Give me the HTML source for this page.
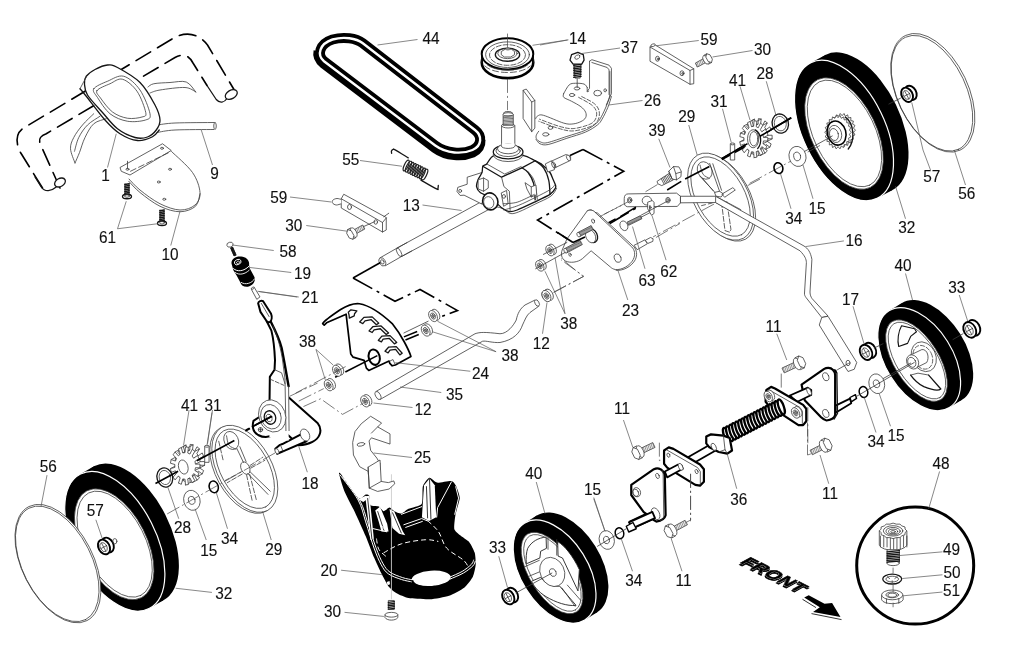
<!DOCTYPE html>
<html><head><meta charset="utf-8"><title>Drive assembly diagram</title>
<style>
html,body{margin:0;padding:0;background:#fff;}
svg{display:block;}
path,ellipse,line,circle,polygon{vector-effect:non-scaling-stroke}
text{font-family:"Liberation Sans",sans-serif;font-size:16.2px;fill:#111;text-anchor:middle;stroke:#111;stroke-width:0.12px;}
svg{filter:grayscale(1);}
.t{fill:none;stroke:#3a3a3a;stroke-width:0.8;stroke-linejoin:round;stroke-linecap:round;}
.tw{fill:#fff;stroke:#3a3a3a;stroke-width:0.8;stroke-linejoin:round;}
.l{fill:none;stroke:#555;stroke-width:0.7;}
.m{fill:none;stroke:#151515;stroke-width:1.3;stroke-linejoin:round;stroke-linecap:round;}
.mw{fill:#fff;stroke:#151515;stroke-width:1.3;stroke-linejoin:round;}
.k{fill:none;stroke:#000;stroke-width:2;stroke-linejoin:round;stroke-linecap:round;}
.kw{fill:#fff;stroke:#000;stroke-width:2;stroke-linejoin:round;}
.b{fill:#000;stroke:none;}
.bs{fill:#000;stroke:#000;stroke-width:1;}
.w{fill:#fff;stroke:none;}
.ws{fill:none;stroke:#fff;stroke-width:1;}
.g{fill:#888;stroke:none;}
.d{stroke-dasharray:17 8;stroke-width:1.6;stroke:#000;}
.th{fill:none;stroke:#444;stroke-width:0.75;}
.ph{fill:none;stroke:#000;stroke-width:1.6;stroke-dasharray:22 5 3 5;}
.ax{fill:none;stroke:#444;stroke-width:0.7;stroke-dasharray:14 3 2 3;}
.axk{fill:none;stroke:#000;stroke-width:1.6;}
</style></head><body>
<svg width="1024" height="672" viewBox="0 0 1024 672">
<rect width="1024" height="672" fill="#fff"/>
<ellipse class="b" cx="859" cy="122.5" rx="75.5" ry="41" transform="rotate(64 859 122.5)" />
<path class="b" d="M877.1 198.36 L892.1 190.36 L825.9 54.64 L810.9 62.64 Z" />
<ellipse class="b" cx="844" cy="130.5" rx="75.5" ry="41" transform="rotate(64 844 130.5)" style="stroke:#fff;stroke-width:1.2"/>
<ellipse class="tw" cx="844" cy="133.5" rx="60" ry="32.5" transform="rotate(64 844 133.5)" />
<ellipse class="t" cx="844.5" cy="133.5" rx="57.5" ry="30.5" transform="rotate(64 844.5 133.5)" />
<ellipse class="b" cx="128.8" cy="533.3" rx="75.5" ry="41" transform="rotate(63 128.8 533.3)" />
<path class="b" d="M149.08 608.57 L163.08 600.57 L94.52 466.03 L80.52 474.03 Z" />
<ellipse class="b" cx="114.8" cy="541.3" rx="75.5" ry="41" transform="rotate(63 114.8 541.3)" style="stroke:#fff;stroke-width:1.2"/>
<ellipse class="tw" cx="114.2" cy="544.2" rx="60" ry="32.5" transform="rotate(63 114.2 544.2)" />
<ellipse class="t" cx="114.7" cy="544.2" rx="57.5" ry="30.5" transform="rotate(63 114.7 544.2)" />
<ellipse class="b" cx="931.8" cy="351.5" rx="57" ry="33.4" transform="rotate(58 931.8 351.5)" />
<path class="b" d="M949.41 407.54 L962.01 399.84 L901.59 303.16 L888.99 310.86 Z" />
<ellipse class="b" cx="919.2" cy="359.2" rx="57" ry="33.4" transform="rotate(58 919.2 359.2)" style="stroke:#fff;stroke-width:1.2"/>
<ellipse class="tw" cx="916.5" cy="360.6" rx="46" ry="22.4" transform="rotate(58 916.5 360.6)" />
<ellipse class="t" cx="917" cy="360.6" rx="43.5" ry="20.4" transform="rotate(58 917 360.6)" />
<ellipse class="b" cx="567" cy="563.9" rx="57" ry="33.4" transform="rotate(58 567 563.9)" />
<path class="b" d="M584.81 619.94 L597.21 612.24 L536.79 515.56 L524.39 523.26 Z" />
<ellipse class="b" cx="554.6" cy="571.6" rx="57" ry="33.4" transform="rotate(58 554.6 571.6)" style="stroke:#fff;stroke-width:1.2"/>
<ellipse class="tw" cx="552" cy="573" rx="46" ry="22.4" transform="rotate(58 552 573)" />
<ellipse class="t" cx="552.5" cy="573" rx="43.5" ry="20.4" transform="rotate(58 552.5 573)" />
<ellipse class="tw" cx="932.8" cy="92.8" rx="63.5" ry="35.5" transform="rotate(64.6 932.8 92.8)" />
<ellipse class="t" cx="932" cy="93.3" rx="62" ry="34.3" transform="rotate(64.6 932 93.3)" />
<ellipse class="tw" cx="57.9" cy="563.6" rx="64" ry="35.5" transform="rotate(63 57.9 563.6)" />
<ellipse class="t" cx="57.3" cy="563.9" rx="62.5" ry="34.5" transform="rotate(63 57.3 563.9)" />
<circle cx="915.2" cy="565.6" r="58.5" fill="none" stroke="#000" stroke-width="3"/>
<text transform="translate(105.5 181.1) scale(0.95 1)">1</text>
<text transform="translate(214.5 178.6) scale(0.95 1)">9</text>
<text transform="translate(107.5 242.6) scale(0.95 1)">61</text>
<text transform="translate(170 259.85) scale(0.95 1)">10</text>
<text transform="translate(278.75 202.6) scale(0.95 1)">59</text>
<text transform="translate(293.75 231.1) scale(0.95 1)">30</text>
<text transform="translate(288 256.85) scale(0.95 1)">58</text>
<text transform="translate(302.5 278.6) scale(0.95 1)">19</text>
<text transform="translate(310 303.1) scale(0.95 1)">21</text>
<text transform="translate(411.25 210.6) scale(0.95 1)">13</text>
<text transform="translate(431 43.85) scale(0.95 1)">44</text>
<text transform="translate(350.75 165.1) scale(0.95 1)">55</text>
<text transform="translate(577.5 44.35) scale(0.95 1)">14</text>
<text transform="translate(629.5 52.6) scale(0.95 1)">37</text>
<text transform="translate(709 45.1) scale(0.95 1)">59</text>
<text transform="translate(762.5 55.1) scale(0.95 1)">30</text>
<text transform="translate(737.5 85.6) scale(0.95 1)">41</text>
<text transform="translate(765 79.35) scale(0.95 1)">28</text>
<text transform="translate(652.5 105.6) scale(0.95 1)">26</text>
<text transform="translate(719 106.85) scale(0.95 1)">31</text>
<text transform="translate(686.75 121.85) scale(0.95 1)">29</text>
<text transform="translate(657 136.1) scale(0.95 1)">39</text>
<text transform="translate(668.75 276.85) scale(0.95 1)">62</text>
<text transform="translate(647 285.6) scale(0.95 1)">63</text>
<text transform="translate(630.5 315.6) scale(0.95 1)">23</text>
<text transform="translate(931.75 182.35) scale(0.95 1)">57</text>
<text transform="translate(966.75 198.6) scale(0.95 1)">56</text>
<text transform="translate(817 213.6) scale(0.95 1)">15</text>
<text transform="translate(793.75 223.6) scale(0.95 1)">34</text>
<text transform="translate(906.75 233.1) scale(0.95 1)">32</text>
<text transform="translate(854 246.1) scale(0.95 1)">16</text>
<text transform="translate(903 270.6) scale(0.95 1)">40</text>
<text transform="translate(956.75 292.6) scale(0.95 1)">33</text>
<text transform="translate(850.5 304.6) scale(0.95 1)">17</text>
<text transform="translate(773.5 331.6) scale(0.95 1)">11</text>
<text transform="translate(876 446.6) scale(0.95 1)">34</text>
<text transform="translate(896 441.1) scale(0.95 1)">15</text>
<text transform="translate(622 414.35) scale(0.95 1)">11</text>
<text transform="translate(738.75 504.6) scale(0.95 1)">36</text>
<text transform="translate(830 498.6) scale(0.95 1)">11</text>
<text transform="translate(592.5 495.1) scale(0.95 1)">15</text>
<text transform="translate(633.75 586.1) scale(0.95 1)">34</text>
<text transform="translate(683.5 586.1) scale(0.95 1)">11</text>
<text transform="translate(941 468.9) scale(0.95 1)">48</text>
<text transform="translate(951.6 554.6) scale(0.95 1)">49</text>
<text transform="translate(952 578.4) scale(0.95 1)">50</text>
<text transform="translate(951.6 596.2) scale(0.95 1)">51</text>
<text transform="translate(533.75 479.35) scale(0.95 1)">40</text>
<text transform="translate(497.5 553.1) scale(0.95 1)">33</text>
<text transform="translate(422.6 463.1) scale(0.95 1)">25</text>
<text transform="translate(329 575.6) scale(0.95 1)">20</text>
<text transform="translate(332.5 616.6) scale(0.95 1)">30</text>
<text transform="translate(310 489.1) scale(0.95 1)">18</text>
<text transform="translate(423 415.1) scale(0.95 1)">12</text>
<text transform="translate(454.5 399.85) scale(0.95 1)">35</text>
<text transform="translate(480.5 378.6) scale(0.95 1)">24</text>
<text transform="translate(510 360.6) scale(0.95 1)">38</text>
<text transform="translate(307.5 346.6) scale(0.95 1)">38</text>
<text transform="translate(541.25 348.6) scale(0.95 1)">12</text>
<text transform="translate(568.75 328.6) scale(0.95 1)">38</text>
<text transform="translate(189.5 410.6) scale(0.95 1)">41</text>
<text transform="translate(213 410.6) scale(0.95 1)">31</text>
<text transform="translate(182.5 532.6) scale(0.95 1)">28</text>
<text transform="translate(229.5 544.35) scale(0.95 1)">34</text>
<text transform="translate(208.75 556.1) scale(0.95 1)">15</text>
<text transform="translate(273.75 554.85) scale(0.95 1)">29</text>
<text transform="translate(48.2 471.8) scale(0.95 1)">56</text>
<text transform="translate(95.2 516.1) scale(0.95 1)">57</text>
<text transform="translate(223.8 598.9) scale(0.95 1)">32</text>
<path class="m d" transform="translate(0 20) scale(0.25000)" d="M170 672 L82 530 C60 490 65 450 95 432 L690 75 C740 45 790 50 830 100 L940 285" />
<path class="m d" transform="translate(0 20) scale(0.25000)" d="M240 672 L165 505 C150 475 160 465 185 455 L700 150 C740 128 760 150 772 172 L828 262" />
<path class="m" transform="translate(0 20) scale(0.25000)" d="M828 262 L865 318 C880 335 897 330 908 314" />
<ellipse class="mw" cx="231.25" cy="94.5" rx="6.5" ry="4.25" transform="rotate(-30 231.25 94.5)" />
<path class="m" transform="translate(0 130) scale(0.25000)" d="M140 188 L165 228 C180 250 205 245 225 228" />
<ellipse class="mw" cx="60" cy="182.5" rx="5.75" ry="4" transform="rotate(-30 60 182.5)" />
<path class="t" d="M148 87 C148.96 86.46 150.08 84.5 153.75 83.75 C157.42 83 164.58 82.79 170 82.5 C175.42 82.21 181.96 80.42 186.25 82 C190.54 83.58 194.17 90.33 195.75 92" />
<path class="t" d="M150 93 C151.67 92.5 154.17 90.92 160 90 C165.83 89.08 179.04 87.17 185 87.5 C190.96 87.83 193.96 91.25 195.75 92" />
<path class="t" d="M157.5 125 C160.42 124.67 165.42 123.42 175 123 C184.58 122.58 208.33 122.58 215 122.5" />
<path class="t" d="M157 132.5 C160 132.08 165.54 130.5 175 130 C184.46 129.5 207.29 129.58 213.75 129.5" />
<ellipse class="tw" cx="215" cy="126" rx="1.25" ry="3.5" />
<path class="t" d="M93.75 113.75 C91.88 115.62 85.83 121.04 82.5 125 C79.17 128.96 75.75 133.54 73.75 137.5 C71.75 141.46 70.29 144.5 70.5 148.75 C70.71 153 74.25 160.62 75 163" />
<path class="t" d="M106.25 118.75 C104.17 119.58 97.29 120.62 93.75 123.75 C90.21 126.88 87.38 132.71 85 137.5 C82.62 142.29 81.17 148.25 79.5 152.5 C77.83 156.75 75.75 161.25 75 163" />
<path class="t" d="M100 116.25 C97.92 117.71 91.04 121.46 87.5 125 C83.96 128.54 80.92 133.12 78.75 137.5 C76.58 141.88 75.21 148.96 74.5 151.25" />
<path class="m" d="M80 88.75 C81.04 90 82.08 91.04 86.25 96.25 C90.42 101.46 99.38 113.75 105 120 C110.62 126.25 114.58 130.33 120 133.75 C125.42 137.17 132.08 140 137.5 140.5 C142.92 141 148.88 138.5 152.5 136.75 C156.12 135 158.12 131.12 159.25 130" />
<path class="mw" d="M86.25 76.25 C88 73.88 91.46 71.38 95 69.5 C98.54 67.62 103.75 65.33 107.5 65 C111.25 64.67 112.08 64.58 117.5 67.5 C122.92 70.42 133.75 76.25 140 82.5 C146.25 88.75 151.67 98.75 155 105 C158.33 111.25 159.79 115.83 160 120 C160.21 124.17 158.33 127.17 156.25 130 C154.17 132.83 151.04 135.75 147.5 137 C143.96 138.25 140 138.88 135 137.5 C130 136.12 122.92 132.92 117.5 128.75 C112.08 124.58 107.5 118.12 102.5 112.5 C97.5 106.88 90.5 99.79 87.5 95 C84.5 90.21 84.71 86.88 84.5 83.75 C84.29 80.62 84.5 78.62 86.25 76.25 Z" />
<path class="t" d="M93.75 88.75 C95.42 86.04 102.5 83.33 107.5 81.25 C112.5 79.17 118.33 74.79 123.75 76.25 C129.17 77.71 135.62 83.75 140 90 C144.38 96.25 149.08 108.75 150 113.75 C150.92 118.75 149.25 118.75 145.5 120 C141.75 121.25 133.42 122.29 127.5 121.25 C121.58 120.21 115 117.71 110 113.75 C105 109.79 100.21 101.67 97.5 97.5 C94.79 93.33 92.08 91.46 93.75 88.75 Z" />
<path class="t" d="M97 90.5 C98.58 88.12 105.75 85.62 110 83.75 C114.25 81.88 118 78 122.5 79.25 C127 80.5 133.12 85.71 137 91.25 C140.88 96.79 144.92 108.21 145.75 112.5 C146.58 116.79 145.04 116.04 142 117 C138.96 117.96 132.42 119.08 127.5 118.25 C122.58 117.42 117 115.38 112.5 112 C108 108.62 103.08 101.58 100.5 98 C97.92 94.42 95.42 92.88 97 90.5 Z" />
<line class="t" x1="80" y1="88.75" x2="86.25" y2="77" />
<line class="l" x1="116.25" y1="133.75" x2="107.5" y2="167.5" />
<line class="l" x1="201.25" y1="130" x2="212.5" y2="165" />
<path class="tw" d="M171.25 151.25 C174.79 154.79 187.71 165.62 192.5 172.5 C197.29 179.38 199.58 187.08 200 192.5 C200.42 197.92 198.33 202.08 195 205 C191.67 207.92 185.83 210.21 180 210 C174.17 209.79 166.67 207.08 160 203.75 C153.33 200.42 145.21 194.17 140 190 C134.79 185.83 130.62 180.62 128.75 178.75" />
<path class="tw" d="M120 167.5 L162.5 143.75 L171.25 150.5 L130 175 L121.25 171.25 Z" />
<line class="t" x1="130.5" y1="171.25" x2="170" y2="152" stroke-dasharray="6 3"/>
<path class="t" d="M128.75 181.25 C130.62 183.12 134.79 188.33 140 192.5 C145.21 196.67 153.33 203.04 160 206.25 C166.67 209.46 174.08 211.75 180 211.75 C185.92 211.75 192.17 209.25 195.5 206.25 C198.83 203.25 199.25 195.83 200 193.75" />
<ellipse class="t" cx="127.5" cy="169.25" rx="1.5" ry="1" />
<ellipse class="t" cx="162" cy="148.25" rx="1.5" ry="1" />
<ellipse class="t" cx="170" cy="169.25" rx="1.5" ry="1" />
<ellipse class="t" cx="158.75" cy="182" rx="1.5" ry="1" />
<ellipse class="t" cx="164.25" cy="199.25" rx="1.5" ry="1" />
<line class="t" x1="127.5" y1="161.25" x2="127.5" y2="168.75" />
<path class="t" transform="translate(0 130) scale(0.25000)" d="M500 215 L500 258 M516 215 L516 258" />
<line class="m" x1="124.75" y1="184.5" x2="129.25" y2="183.75" />
<line class="m" x1="124.75" y1="186.25" x2="129.25" y2="185.5" />
<line class="m" x1="124.75" y1="188" x2="129.25" y2="187.25" />
<line class="m" x1="124.75" y1="189.75" x2="129.25" y2="189" />
<line class="m" x1="124.75" y1="191.5" x2="129.25" y2="190.75" />
<line class="m" x1="124.75" y1="193.25" x2="129.25" y2="192.5" />
<line class="m" x1="124.75" y1="195" x2="129.25" y2="194.25" />
<ellipse class="mw" cx="127" cy="196.5" rx="4.5" ry="2.25" />
<ellipse class="t" cx="127" cy="196" rx="2.5" ry="1.25" />
<path class="t" transform="translate(0 130) scale(0.25000)" d="M640 320 L640 365 M656 320 L656 365" />
<line class="m" x1="159.75" y1="210.75" x2="164.25" y2="210" />
<line class="m" x1="159.75" y1="212.5" x2="164.25" y2="211.75" />
<line class="m" x1="159.75" y1="214.25" x2="164.25" y2="213.5" />
<line class="m" x1="159.75" y1="216" x2="164.25" y2="215.25" />
<line class="m" x1="159.75" y1="217.75" x2="164.25" y2="217" />
<line class="m" x1="159.75" y1="219.5" x2="164.25" y2="218.75" />
<line class="m" x1="159.75" y1="221.25" x2="164.25" y2="220.5" />
<ellipse class="mw" cx="162" cy="223.25" rx="4.5" ry="2.25" />
<ellipse class="t" cx="162" cy="222.75" rx="2.5" ry="1.25" />
<line class="l" x1="126.25" y1="201.25" x2="117.5" y2="228.75" />
<line class="l" x1="117.5" y1="228.75" x2="157.5" y2="223.75" />
<line class="l" x1="180" y1="211.25" x2="170.75" y2="245.5" />
<line class="l" x1="939.59" y1="471.44" x2="928.68" y2="508.76" />
<path class="tw" transform="translate(730 470) scale(0.28711)" d="M520 212 L520 262 C530 285 605 285 616 262 L616 212 Z" />
<line class="t" x1="880.45" y1="536.04" x2="880.45" y2="546.95" />
<line class="t" x1="883.75" y1="536.04" x2="883.75" y2="546.95" />
<line class="t" x1="887.05" y1="536.04" x2="887.05" y2="546.95" />
<line class="t" x1="890.35" y1="537.76" x2="890.35" y2="549.24" />
<line class="t" x1="893.65" y1="537.76" x2="893.65" y2="549.24" />
<line class="t" x1="896.95" y1="537.76" x2="896.95" y2="549.24" />
<line class="t" x1="900.26" y1="537.76" x2="900.26" y2="549.24" />
<line class="t" x1="903.56" y1="536.04" x2="903.56" y2="546.95" />
<line class="t" x1="906.86" y1="536.04" x2="906.86" y2="546.95" />
<path class="tw" d="M906.86 530.87 L905.06 532.67 L905.01 534.74 L901.85 535.8 L899.97 537.58 L896.29 537.61 L893.08 538.62 L889.87 537.61 L886.19 537.58 L884.31 535.8 L881.14 534.74 L881.1 532.67 L879.3 530.87 L881.1 529.06 L881.14 526.99 L884.31 525.93 L886.19 524.15 L889.87 524.13 L893.08 523.12 L896.29 524.13 L899.97 524.15 L901.85 525.93 L905.01 526.99 L905.06 529.06 Z" />
<ellipse class="t" cx="893.08" cy="530.87" rx="9.76" ry="5.17" />
<ellipse class="t" cx="893.08" cy="531.15" rx="7.18" ry="3.73" />
<ellipse class="t" cx="893.08" cy="531.44" rx="4.59" ry="2.3" />
<ellipse class="t" cx="893.08" cy="531.73" rx="2.3" ry="1.15" />
<path class="tw" d="M887.05 549.82 L887.05 563.31 L899.39 563.31 L899.39 549.82 Z" />
<ellipse class="tw" cx="893.08" cy="563.31" rx="6.03" ry="2.3" />
<line class="m" x1="887.05" y1="551.83" x2="899.39" y2="550.68" />
<line class="m" x1="887.05" y1="553.55" x2="899.39" y2="552.4" />
<line class="m" x1="887.05" y1="555.27" x2="899.39" y2="554.12" />
<line class="m" x1="887.05" y1="556.99" x2="899.39" y2="555.85" />
<line class="m" x1="887.05" y1="558.72" x2="899.39" y2="557.57" />
<line class="m" x1="887.05" y1="560.44" x2="899.39" y2="559.29" />
<line class="m" x1="887.05" y1="562.16" x2="899.39" y2="561.01" />
<path class="ax" transform="translate(730 470) scale(0.28711)" d="M568 340 L568 360" />
<ellipse class="mw" cx="892.22" cy="579.1" rx="9.47" ry="4.88" />
<ellipse class="tw" cx="892.22" cy="579.1" rx="6.32" ry="2.87" />
<path class="t" transform="translate(730 470) scale(0.28711)" d="M548 372 L556 378 M582 372 L574 378 M565 392 L565 386" />
<path class="tw" transform="translate(730 470) scale(0.28711)" d="M528 435 L528 452 C535 470 595 470 603 452 L603 435" />
<ellipse class="tw" cx="892.22" cy="594.89" rx="10.62" ry="4.88" />
<ellipse class="t" cx="892.22" cy="594.89" rx="6.32" ry="2.87" />
<ellipse class="t" cx="892.22" cy="595.18" rx="4.31" ry="2.01" />
<path class="t" transform="translate(730 470) scale(0.28711)" d="M545 449 L545 464 M588 448 L588 464" />
<path class="ax" transform="translate(730 470) scale(0.28711)" d="M568 400 L568 425 M568 462 L568 478" />
<line class="l" x1="942.46" y1="551.83" x2="899.39" y2="555.56" />
<line class="l" x1="942.46" y1="574.79" x2="902.27" y2="578.53" />
<line class="l" x1="942.46" y1="592.02" x2="903.7" y2="595.75" />
<g transform="translate(739 562.5) rotate(26.5) skewX(-35)"><text x="1.2" y="1.9" style="font-size:16px;font-weight:bold;text-anchor:start;letter-spacing:0.5px;fill:#000;stroke:#000;stroke-width:1px" transform="scale(1.17 0.9)">FRONT</text><text x="0" y="0" style="font-size:16px;font-weight:bold;text-anchor:start;letter-spacing:0.5px;fill:#fff;stroke:#fff;stroke-width:0.7px" transform="scale(1.17 0.9)">FRONT</text><text x="0" y="0" style="font-size:16px;font-weight:bold;text-anchor:start;letter-spacing:0.5px;fill:#000;stroke:#000;stroke-width:0.45px" transform="scale(1.17 0.9)">FRONT</text></g>
<path class="b" d="M808.7 595.2 L824.5 603.8 L832.1 603 L840.5 617 L813.1 612 L819.8 607.2 L804.2 597.6 Z"/>
<path d="M802.5 599.3 L816 607.6 M811.5 613.6 L841.5 619.6" fill="none" stroke="#000" stroke-width="0.8"/>

<path class="tw" d="M855.48 130.16 L853.5 132.22 L854.94 134.91 L852.58 136.18 L853.36 139.26 L850.81 139.64 L850.87 142.89 L848.34 142.34 L847.68 145.48 L845.36 144.06 L844.03 146.83 L842.13 144.64 L840.23 146.83 L838.89 144.06 L836.58 145.48 L835.92 142.34 L833.38 142.89 L833.45 139.64 L830.89 139.26 L831.68 136.18 L829.32 134.91 L830.76 132.22 L828.77 130.16 L830.76 128.1 L829.32 125.42 L831.68 124.15 L830.89 121.06 L833.45 120.68 L833.38 117.44 L835.92 117.98 L836.58 114.84 L838.89 116.27 L840.23 113.49 L842.13 115.68 L844.03 113.49 L845.36 116.27 L847.68 114.84 L848.34 117.98 L850.87 117.44 L850.81 120.68 L853.36 121.06 L852.58 124.15 L854.94 125.42 L853.5 128.1 Z" />
<path class="tw" d="M851.42 132.19 L849.43 134.25 L850.88 136.94 L848.51 138.21 L849.3 141.3 L846.74 141.68 L846.81 144.92 L844.27 144.38 L843.61 147.51 L841.3 146.09 L839.97 148.86 L838.06 146.67 L836.16 148.86 L834.83 146.09 L832.52 147.51 L831.86 144.38 L829.32 144.92 L829.38 141.68 L826.83 141.3 L827.62 138.21 L825.25 136.94 L826.7 134.25 L824.71 132.19 L826.7 130.13 L825.25 127.45 L827.62 126.18 L826.83 123.09 L829.38 122.71 L829.32 119.47 L831.86 120.01 L832.52 116.88 L834.83 118.3 L836.16 115.53 L838.06 117.71 L839.97 115.53 L841.3 118.3 L843.61 116.88 L844.27 120.01 L846.81 119.47 L846.74 122.71 L849.3 123.09 L848.51 126.18 L850.88 127.45 L849.43 130.13 Z" />
<ellipse class="" cx="836.61" cy="133.06" rx="9.29" ry="12.19" transform="rotate(-15 836.61 133.06)" fill="#fff" stroke="#000" stroke-width="1.6"/>
<ellipse class="tw" cx="835.16" cy="133.94" rx="6.39" ry="8.71" transform="rotate(-15 835.16 133.94)" />
<ellipse class="t" cx="834" cy="134.52" rx="4.35" ry="6.1" transform="rotate(-15 834 134.52)" />
<path class="t" d="M832.26 135.97 L797.42 155.42" />
<path class="m" transform="translate(780 30) scale(0.29032)" d="M225 300 C255 320 260 380 235 410" />
<path class="" transform="translate(860 290) scale(0.19337)" d="M215 185 L282 200 L292 216 L262 240 L246 276 L200 292 C192 260 198 215 215 185 Z" fill="#fff" stroke="#111" stroke-width="1.1" stroke-linejoin="round"/>
<path class="m" transform="translate(860 290) scale(0.19337)" d="M355 440 L418 512 C405 522 380 520 330 500 C300 485 280 465 262 440" />
<path class="t" transform="translate(860 290) scale(0.19337)" d="M262 440 L300 430 L355 440" />
<ellipse class="t" cx="923.81" cy="356.71" rx="11.99" ry="15.47" transform="rotate(-25 923.81 356.71)" />
<ellipse class="t" cx="922.85" cy="357.29" rx="9.28" ry="12.38" transform="rotate(-25 922.85 357.29)"  stroke-dasharray="4 2"/>
<path class="tw" transform="translate(860 290) scale(0.19337)" d="M258 338 L320 308 C350 305 360 350 345 375 L285 405 Z" />
<ellipse class="tw" cx="912.6" cy="361.93" rx="5.8" ry="7.35" transform="rotate(-25 912.6 361.93)" />
<ellipse class="t" cx="911.82" cy="362.32" rx="3.87" ry="5.22" transform="rotate(-25 911.82 362.32)" />
<path class="t" d="M910.66 363.09 L883.2 378.56" />
<path class="" transform="translate(490 500) scale(0.19337)" d="M195 250 C215 215 250 195 290 192 L292 250 L262 265 L258 300 L188 330 C185 300 188 270 195 250 Z" fill="#fff" stroke="#222" stroke-width="0.9" stroke-linejoin="round"/>
<path class="" transform="translate(490 500) scale(0.19337)" d="M350 215 C385 235 430 290 462 360 L455 470 L375 300 L352 290 Z" fill="#fff" stroke="#222" stroke-width="0.9" stroke-linejoin="round"/>
<path class="" transform="translate(490 500) scale(0.19337)" d="M215 420 L262 400 C290 440 330 450 360 445 L445 545 C400 550 340 530 290 500 C250 475 225 445 215 420 Z" fill="#fff" stroke="#222" stroke-width="0.9" stroke-linejoin="round"/>
<path class="t" transform="translate(490 500) scale(0.19337)" d="M180 345 L255 312 M200 395 L260 370 M300 190 L300 255 M345 205 L345 285 M400 440 L470 520 M372 455 L440 550" />
<ellipse class="tw" cx="552.27" cy="571.93" rx="11.99" ry="15.08" transform="rotate(-25 552.27 571.93)" />
<ellipse class="t" cx="552.85" cy="572.51" rx="3.09" ry="4.06" transform="rotate(-25 552.85 572.51)" />
<path class="tw" d="M343.75 194.25 L386.25 217.5 L386.25 230 L382.5 232 L341.25 208 L341.25 198.75 Z" />
<path class="t" d="M341.25 198.75 L382.5 222.5 L382.5 232" />
<line class="t" x1="382.5" y1="222.5" x2="386.25" y2="218" />
<path class="tw" d="M341.25 199.5 C340.54 199.33 338.38 198.42 337 198.5 C335.62 198.58 333.75 199.25 333 200 C332.25 200.75 331.96 202.17 332.5 203 C333.04 203.83 334.79 204.88 336.25 205 C337.71 205.12 340.42 203.96 341.25 203.75" />
<ellipse class="t" cx="349.5" cy="207" rx="2" ry="2.5" />
<ellipse class="t" cx="375.75" cy="222" rx="1.75" ry="2.25" />
<line class="t" x1="383.75" y1="216.75" x2="388.75" y2="213.25" />
<line class="l" x1="290" y1="197" x2="331.25" y2="202" />
<path class="tw" d="M355.24 234.26 L364.84 228.97 L362.66 225.03 L353.06 230.32 Z" />
<line class="" x1="356.72" y1="233.44" x2="355.15" y2="229.17" stroke="#666" stroke-width="0.7"/>
<line class="" x1="358.21" y1="232.62" x2="356.64" y2="228.35" stroke="#666" stroke-width="0.7"/>
<line class="" x1="359.7" y1="231.8" x2="358.13" y2="227.53" stroke="#666" stroke-width="0.7"/>
<line class="" x1="361.19" y1="230.98" x2="359.61" y2="226.71" stroke="#666" stroke-width="0.7"/>
<line class="" x1="362.68" y1="230.16" x2="361.1" y2="225.89" stroke="#666" stroke-width="0.7"/>
<line class="" x1="364.17" y1="229.34" x2="362.59" y2="225.07" stroke="#666" stroke-width="0.7"/>
<ellipse class="tw" cx="353.67" cy="232.56" rx="2.75" ry="5.22" transform="rotate(-28.86 353.67 232.56)" />
<path class="tw" d="M353.92 235.56 L352.95 239.23 L349.33 238.09 L346.67 233.27 L347.64 229.6 L351.26 230.74 Z" />
<path class="t" d="M352.95 239.23 L355.84 237.64" />
<path class="t" d="M347.64 229.6 L350.53 228" />
<line class="t" x1="363.75" y1="226.5" x2="375" y2="221.5" />
<line class="l" x1="306.25" y1="225.5" x2="347.5" y2="231.25" />
<ellipse class="tw" cx="229.99" cy="244.67" rx="3.19" ry="2.42" transform="rotate(-15 229.99 244.67)" />
<path class="tw" d="M230.75 247.96 L234.24 255.9 L236.01 255.12 L232.52 247.19 Z" />
<line class="m" x1="230.83" y1="248.14" x2="232.72" y2="247.63" />
<line class="m" x1="231.18" y1="248.94" x2="233.07" y2="248.43" />
<line class="m" x1="231.53" y1="249.74" x2="233.42" y2="249.22" />
<line class="m" x1="231.88" y1="250.53" x2="233.77" y2="250.02" />
<line class="m" x1="232.23" y1="251.33" x2="234.12" y2="250.82" />
<line class="m" x1="232.58" y1="252.13" x2="234.47" y2="251.62" />
<line class="m" x1="232.93" y1="252.92" x2="234.82" y2="252.41" />
<line class="m" x1="233.28" y1="253.72" x2="235.17" y2="253.21" />
<line class="m" x1="233.63" y1="254.52" x2="235.52" y2="254.01" />
<line class="m" x1="233.98" y1="255.32" x2="235.87" y2="254.8" />
<line class="l" x1="273.75" y1="250.5" x2="232.5" y2="245" />
<path class="b" transform="translate(215 235) scale(0.09674)" d="M172 300 C160 250 215 215 270 222 C320 225 360 260 352 310 L360 345 L405 430 C425 470 400 520 340 535 C300 540 270 520 262 490 L225 420 L190 365 Z" />
<ellipse class="" cx="237.73" cy="262.09" rx="3.48" ry="2.52" transform="rotate(-25 237.73 262.09)" fill="none" stroke="#fff" stroke-width="1"/>
<ellipse class="" cx="238.02" cy="262.38" rx="1.64" ry="1.06" transform="rotate(-25 238.02 262.38)" fill="none" stroke="#fff" stroke-width="0.8"/>
<path class="" transform="translate(215 235) scale(0.09674)" d="M188 345 C230 385 300 375 352 322" fill="none" stroke="#fff" stroke-width="1"/>
<path class="" transform="translate(215 235) scale(0.09674)" d="M205 385 C250 420 310 405 356 362" fill="none" stroke="#fff" stroke-width="0.9"/>
<path class="" transform="translate(215 235) scale(0.09674)" d="M268 488 C310 520 385 500 410 450" fill="none" stroke="#fff" stroke-width="0.9"/>
<line class="l" x1="291.25" y1="272.5" x2="250" y2="267.5" />
<path class="tw" d="M251.28 289.17 L254.18 287.24 L259.98 296.91 L256.79 299.33 Z" />
<ellipse class="tw" cx="252.73" cy="288.2" rx="1.64" ry="0.87" transform="rotate(-30 252.73 288.2)" />
<line class="l" x1="298.75" y1="297" x2="257.5" y2="291.25" />
<path class="tw" d="M396.72 248.28 L488.12 197.97 L492.81 207.34 L401.41 256.56 Z" />
<path class="tw" d="M379.53 258.12 L396.72 248.28 L401.41 256.56 L385 265.94 Z" />
<ellipse class="tw" cx="399.06" cy="252.34" rx="1.88" ry="4.69" transform="rotate(-28 399.06 252.34)" />
<path class="w" d="M399.38 248.44 L406.88 244.06 L405.31 253.44 Z"/>
<path class="t" d="M396.72 248.28 L406.88 242.66" />
<path class="t" d="M401.41 256.56 L411.56 251.09" />
<ellipse class="tw" cx="382.34" cy="261.88" rx="2.97" ry="4.38" transform="rotate(-28 382.34 261.88)" />
<ellipse class="t" cx="382.34" cy="261.88" rx="1.56" ry="2.34" transform="rotate(-28 382.34 261.88)" />
<line class="l" x1="422.5" y1="205" x2="461.6" y2="210.5" />
<path class="axk" transform="translate(200 170) scale(0.25000)" d="M722 370 L612 432" />
<path class="ph" transform="translate(200 170) scale(0.25000)" d="M612 432 L780 525 L880 478 L1030 562 L940 596" />
<path class="" transform="translate(300 22.6) scale(0.25000)" d="M722 470 C724 503 705 513 690 520 C650 537 586 535 541 502 L96 165 C78 150 70 132 74 115" fill="none" stroke="#000" stroke-width="10"/>
<path class="" transform="translate(300 20) scale(0.25000)" d="M250 92 L700 440 C730 463 728 503 690 520 C650 537 586 535 541 502 L96 165 C66 140 78 95 130 78 C175 65 225 73 250 92 Z" fill="none" stroke="#000" stroke-width="10"/>
<path class="" transform="translate(300 20) scale(0.25000)" d="M250 92 L700 440 C730 463 728 503 690 520 C650 537 586 535 541 502 L96 165 C66 140 78 95 130 78 C175 65 225 73 250 92 Z" fill="none" stroke="#fff" stroke-width="2.4"/>
<line class="l" x1="417.5" y1="39.5" x2="377.5" y2="45" />
<ellipse class="" cx="507.5" cy="62.5" rx="25.78" ry="15.62" fill="#fff" stroke="#000" stroke-width="2.6"/>
<path class="m" transform="translate(470 25) scale(0.15625)" d="M75 185 L75 240 M405 185 L405 240" />
<ellipse class="" cx="507.5" cy="53.91" rx="25.78" ry="15.62" fill="#fff" stroke="#000" stroke-width="2"/>
<ellipse class="t" cx="507.5" cy="54.69" rx="21.88" ry="12.81" />
<ellipse class="t" cx="507.5" cy="55" rx="17.97" ry="10.31" stroke-dasharray="5 2"/>
<path class="t" transform="translate(470 25) scale(0.15625)" d="M110 255 C160 300 320 300 370 255" />
<path class="t" transform="translate(470 25) scale(0.15625)" d="M95 262 C150 318 330 318 385 262" stroke-dasharray="6 3"/>
<ellipse class="m" cx="507.5" cy="54.69" rx="12.19" ry="6.56" />
<ellipse class="t" cx="507.5" cy="53.44" rx="9.69" ry="5.16" />
<path class="tw" d="M501.25 51.56 L505.16 49.22 L511.41 49.22 L514.53 51.56 L514.53 54.69 L510.62 57.03 L504.38 57.03 L501.25 54.69 Z" />
<ellipse class="g" cx="507.81" cy="49.22" rx="2.19" ry="1.25" />
<line class="ax" x1="507.5" y1="33.59" x2="507.5" y2="48.44" />
<line class="ax" x1="507.5" y1="78.91" x2="507.5" y2="110.16" />
<line class="l" x1="568.44" y1="39.84" x2="532.5" y2="45.31" />
<path class="tw" d="M503.75 113 L512.5 113 L512.5 125 L503.75 125 Z" />
<ellipse class="tw" cx="508" cy="113" rx="4.25" ry="1.5" />
<path class="m" d="M391.63 153.26 C391.6 152.89 391.22 151.69 391.46 151.05 C391.71 150.41 392.49 149.62 393.1 149.42 C393.71 149.21 392.62 148.42 395.15 149.82 C397.67 151.23 406.06 156.51 408.25 157.85" />
<ellipse class="" cx="406.2" cy="165.54" rx="1.96" ry="5.89" transform="rotate(26 406.2 165.54)" fill="none" stroke="#222" stroke-width="1.25"/>
<ellipse class="" cx="408.5" cy="166.67" rx="1.96" ry="5.89" transform="rotate(26 408.5 166.67)" fill="none" stroke="#222" stroke-width="1.25"/>
<ellipse class="" cx="410.8" cy="167.8" rx="1.96" ry="5.89" transform="rotate(26 410.8 167.8)" fill="none" stroke="#222" stroke-width="1.25"/>
<ellipse class="" cx="413.11" cy="168.92" rx="1.96" ry="5.89" transform="rotate(26 413.11 168.92)" fill="none" stroke="#222" stroke-width="1.25"/>
<ellipse class="" cx="415.41" cy="170.05" rx="1.96" ry="5.89" transform="rotate(26 415.41 170.05)" fill="none" stroke="#222" stroke-width="1.25"/>
<ellipse class="" cx="417.71" cy="171.17" rx="1.96" ry="5.89" transform="rotate(26 417.71 171.17)" fill="none" stroke="#222" stroke-width="1.25"/>
<ellipse class="" cx="420.01" cy="172.3" rx="1.96" ry="5.89" transform="rotate(26 420.01 172.3)" fill="none" stroke="#222" stroke-width="1.25"/>
<ellipse class="" cx="422.32" cy="173.42" rx="1.96" ry="5.89" transform="rotate(26 422.32 173.42)" fill="none" stroke="#222" stroke-width="1.25"/>
<ellipse class="" cx="424.62" cy="174.55" rx="1.96" ry="5.89" transform="rotate(26 424.62 174.55)" fill="none" stroke="#222" stroke-width="1.25"/>
<path class="m" d="M420.94 180.12 C423.53 181.59 433.65 187.59 436.49 188.96 C439.33 190.32 437.66 188.88 437.96 188.3 C438.27 187.73 438.24 185.98 438.29 185.52" />
<line class="l" x1="360" y1="160.5" x2="402" y2="166.25" />
<path class="tw" d="M573.91 63.28 L580.94 63.28 L580.16 78.12 L575 78.12 Z" />
<line class="m" x1="573.75" y1="65.31" x2="581.09" y2="64.38" />
<line class="m" x1="573.75" y1="67.03" x2="581.09" y2="66.09" />
<line class="m" x1="573.75" y1="68.75" x2="581.09" y2="67.81" />
<line class="m" x1="573.75" y1="70.47" x2="581.09" y2="69.53" />
<line class="m" x1="573.75" y1="72.19" x2="581.09" y2="71.25" />
<line class="m" x1="573.75" y1="73.91" x2="581.09" y2="72.97" />
<line class="m" x1="573.75" y1="75.62" x2="581.09" y2="74.69" />
<line class="m" x1="573.75" y1="77.34" x2="581.09" y2="76.41" />
<path class="mw" d="M570 60.16 L571.56 54.69 L577.81 52.34 L583.28 54.69 L584.06 60.16 L581.72 64.06 L573.12 64.06 Z" />
<ellipse class="t" cx="577.34" cy="57.03" rx="2.81" ry="1.88" transform="rotate(-30 577.34 57.03)" />
<line class="t" x1="577.19" y1="78.91" x2="577.19" y2="87.5" />
<line class="l" x1="620" y1="48" x2="580" y2="53.75" />
<path class="tw" d="M523.12 90.31 L526.25 89.06 L534.84 100.47 L534.84 128.12 L531.72 131.72 L523.12 118.44 Z" />
<path class="t" d="M523.12 90.31 L531.72 102.03 L531.72 131.72" />
<line class="t" x1="531.72" y1="102.03" x2="534.84" y2="100.47" />
<path class="t" d="M563.75 93.44 C564.66 92.01 567.27 86.54 569.22 84.84 C571.17 83.15 572.99 83.41 575.47 83.28 C577.94 83.15 582.11 83.36 584.06 84.06 C586.02 84.77 586.67 86.93 587.19 87.5" />
<path class="t" d="M587.19 87.5 L587.19 91.88 L588.75 91.09" />
<path class="t" d="M609.84 95.78 C609.32 97.34 608.15 101.64 606.72 105.16 C605.29 108.67 602.94 113.88 601.25 116.88 C599.56 119.87 599.17 120.91 596.56 123.12 C593.96 125.34 590.57 127.94 585.62 130.16 C580.68 132.37 573.26 134.32 566.88 136.41 C560.49 138.49 551.77 141.74 547.34 142.66 C542.92 143.57 542.14 142.53 540.31 141.88 C538.49 141.22 537.06 139.92 536.41 138.75 C535.76 137.58 536.02 136.09 536.41 134.84 C536.8 133.59 538.36 131.85 538.75 131.25" />
<path class="t" d="M611.41 96.56 C610.81 98.39 609.38 103.72 607.81 107.5 C606.25 111.28 603.78 116.3 602.03 119.22 C600.29 122.14 600.08 122.86 597.34 125 C594.61 127.14 590.7 129.82 585.62 132.03 C580.55 134.24 573.12 136.2 566.88 138.28 C560.62 140.36 552.6 143.62 548.12 144.53 C543.65 145.44 542.01 144.58 540 143.75 C537.99 142.92 536.74 140.23 536.09 139.53" />
<path class="t" d="M563.75 93.44 C563.75 94.09 562.45 96.04 563.75 97.34 C565.05 98.65 568.7 99.69 571.56 101.25 C574.43 102.81 578.59 104.9 580.94 106.72 C583.28 108.54 584.84 110.36 585.62 112.19 C586.41 114.01 586.41 116.09 585.62 117.66 C584.84 119.22 583.02 120.52 580.94 121.56 C578.85 122.6 575.99 123.65 573.12 123.91 C570.26 124.17 568.7 124.56 563.75 123.12 C558.8 121.69 547.81 116.48 543.44 115.31 C539.06 114.14 538.8 115.52 537.5 116.09 C536.2 116.67 535.94 118.31 535.62 118.75" />
<path class="t" d="M578.59 97.34 C580.81 98.65 588.88 102.68 591.88 105.16 C594.87 107.63 596.04 109.71 596.56 112.19 C597.08 114.66 596.3 117.92 595 120 C593.7 122.08 592.4 123.26 588.75 124.69 C585.1 126.12 578.07 128.33 573.12 128.59 C568.18 128.85 564.66 127.81 559.06 126.25 C553.46 124.69 542.79 120.39 539.53 119.22" stroke-dasharray="4 2"/>
<path class="t" d="M581.72 96.56 C583.8 97.73 591.3 101.12 594.22 103.59 C597.14 106.07 598.65 108.54 599.22 111.41 C599.79 114.27 599.14 118.26 597.66 120.78 C596.17 123.31 594.4 124.87 590.31 126.56 C586.22 128.26 578.46 130.65 573.12 130.94 C567.79 131.22 564.01 129.9 558.28 128.28 C552.55 126.67 542.01 122.42 538.75 121.25" stroke-dasharray="4 2"/>
<ellipse class="t" cx="577.03" cy="88.44" rx="2.81" ry="1.56" />
<ellipse class="t" cx="572.03" cy="95" rx="2.66" ry="1.56" />
<ellipse class="t" cx="597.66" cy="93.12" rx="3.91" ry="2.81" />
<ellipse class="t" cx="605.16" cy="90.31" rx="1.25" ry="1.56" />
<ellipse class="t" cx="550.47" cy="127.81" rx="2.34" ry="1.56" />
<ellipse class="t" cx="545.78" cy="134.38" rx="3.12" ry="1.72" />
<path class="t" d="M589.53 61.25 L591.88 59.69 L609.06 65.16 L611.41 68.28 L611.41 93.75 L606.25 105" />
<path class="t" d="M589.53 61.25 L589.53 88.28 L587.5 90.94" />
<path class="t" d="M591.88 62.5 L607.19 67.5 L609.06 69.84 L609.06 94.53" />
<line class="t" x1="609.84" y1="71.56" x2="609.84" y2="95.78" />
<line class="l" x1="642.5" y1="100.5" x2="608.75" y2="105" />
<path class="tw" d="M650 47 L654.5 44.5 L693.75 68.75 L693.75 83.75 L690 84.25 L650 61.25 Z" />
<path class="t" d="M650 47 L690 70.5 L690 84.25" />
<line class="t" x1="690" y1="70.5" x2="693.75" y2="68.75" />
<ellipse class="tw" cx="653" cy="45.25" rx="2.25" ry="1.25" transform="rotate(-20 653 45.25)" />
<ellipse class="t" cx="657.5" cy="58.75" rx="2" ry="2.5" />
<ellipse class="t" cx="682" cy="73.25" rx="2" ry="2.5" />
<ellipse class="t" cx="658" cy="59" rx="0.75" ry="1" />
<ellipse class="t" cx="682.5" cy="73.5" rx="0.75" ry="1" />
<line class="l" x1="698.75" y1="40.5" x2="656.25" y2="45.75" />
<path class="tw" d="M704.51 58.09 L695.43 63.02 L697.57 66.98 L706.66 62.04 Z" />
<line class="" x1="703.02" y1="58.9" x2="704.57" y2="63.18" stroke="#666" stroke-width="0.7"/>
<line class="" x1="701.52" y1="59.71" x2="703.07" y2="63.99" stroke="#666" stroke-width="0.7"/>
<line class="" x1="700.03" y1="60.52" x2="701.58" y2="64.8" stroke="#666" stroke-width="0.7"/>
<line class="" x1="698.53" y1="61.33" x2="700.09" y2="65.61" stroke="#666" stroke-width="0.7"/>
<line class="" x1="697.04" y1="62.15" x2="698.59" y2="66.42" stroke="#666" stroke-width="0.7"/>
<line class="" x1="695.55" y1="62.96" x2="697.1" y2="67.24" stroke="#666" stroke-width="0.7"/>
<ellipse class="tw" cx="706.02" cy="59.82" rx="2.5" ry="4.75" transform="rotate(151.48 706.02 59.82)" />
<path class="tw" d="M705.81 57.09 L706.71 53.76 L710 54.82 L712.38 59.21 L711.49 62.55 L708.2 61.49 Z" />
<path class="t" d="M706.71 53.76 L704.07 55.19" />
<path class="t" d="M711.49 62.55 L708.85 63.98" />
<line class="l" x1="752.5" y1="50.5" x2="712.5" y2="57" />
<line class="l" x1="540" y1="45" x2="567.5" y2="40" />
<line class="l" x1="740" y1="86.25" x2="750" y2="120" />
<line class="l" x1="766.25" y1="81.25" x2="776.25" y2="116.25" />
<line class="l" x1="722.5" y1="108.75" x2="731.25" y2="142.5" />
<line class="l" x1="688.75" y1="125" x2="697.5" y2="156.25" />
<line class="l" x1="658.75" y1="138.75" x2="670" y2="167.5" />
<path class="tw" d="M467.19 177.19 L482.03 172.5 L496.88 183.44 L481.25 203.75 L464.06 195.16 L460.16 195.47 L457.03 191.56 L457.81 187.34 L467.19 184.22 Z" />
<ellipse class="t" cx="460.16" cy="190.94" rx="1.41" ry="1.56" />
<path class="t" d="M481.25 203.75 C484.64 204.48 496.74 206.51 501.56 208.12 C506.38 209.74 507.29 212.81 510.16 213.44 C513.02 214.06 514.58 213.44 518.75 211.88 C522.92 210.31 529.82 206.67 535.16 204.06 C540.49 201.46 547.21 198.85 550.78 196.25 C554.35 193.65 555.6 189.74 556.56 188.44" />
<path class="mw" d="M494.53 155.31 C490.34 156.32 488.09 162.63 486.72 163.91 C485.35 165.18 483.36 165.25 482.81 166.25 C482.27 167.25 482.58 170.95 482.03 172.5 C481.48 174.05 478.76 177.89 478.12 179.53 C477.49 181.17 476.29 185.01 476.56 186.56 C476.84 188.11 478.83 191.54 480.47 192.81 C482.11 194.09 488.16 195.77 490.62 197.5 C493.09 199.23 499.38 206.02 501.56 207.66 C503.75 209.3 507.55 211.29 509.38 211.56 C511.2 211.84 514.27 211.09 517.19 210 C520.1 208.91 530.55 204.01 534.38 202.19 C538.2 200.36 547.54 196.02 550 194.38 C552.46 192.73 554.83 189.22 555.47 188.12 C556.11 187.03 555.74 186 555.47 185 C555.2 184 553.76 180.99 553.12 179.53 C552.49 178.07 551.28 174.23 550 172.5 C548.72 170.77 543.92 166.05 542.19 164.69 C540.46 163.32 537.43 161.88 535.16 160.78 C532.88 159.69 527.4 155.95 522.66 155.31 C517.92 154.67 498.72 154.31 494.53 155.31 Z" />
<path class="m" d="M482.81 166.25 L501.56 177.19 L521.88 167.81 L535.16 160.78" />
<path class="t" d="M501.56 177.19 L503.91 186.56 L509.38 191.25 L510.16 211.56" />
<path class="t" d="M486.72 163.91 L504.69 174.06 L521.09 166.56" />
<path class="m" d="M521.88 167.81 C522.92 168.59 526.17 169.9 528.12 172.5 C530.08 175.1 532.42 178.88 533.59 183.44 C534.77 187.99 534.9 197.11 535.16 199.84" />
<path class="m" d="M535.16 160.78 C536.59 162.01 541.48 164.87 543.75 168.12 C546.02 171.38 547.71 175.94 548.75 180.31 C549.79 184.69 549.79 192.03 550 194.38" />
<path class="t" d="M528.12 171.72 C529.17 173.28 532.81 176.28 534.38 181.09 C535.94 185.91 536.98 197.37 537.5 200.62" />
<path class="tw" d="M525 182.66 L531.25 186.88 L535.94 185 L536.72 194.69 L531.25 197.03 L526.88 188.91 Z" />
<path class="t" d="M531.25 186.88 L531.25 197.03" />
<path class="tw" d="M478.12 179.84 L483.59 177.97 L488.28 180.62 L488.28 188.12 L483.59 191.25 L478.12 188.91 Z" />
<path class="t" d="M483.59 177.97 L483.59 191.25" />
<path class="t" d="M503.91 210 C506.38 209.22 513.54 207.4 518.75 205.31 C523.96 203.23 529.95 200.1 535.16 197.5 C540.36 194.9 546.69 191.82 550 189.69 C553.31 187.55 554.17 185.52 555 184.69" />
<path class="t" d="M503.12 203.75 C505.47 203.49 511.98 203.75 517.19 202.19 C522.4 200.62 531.51 195.68 534.38 194.38" />
<ellipse class="t" cx="503.91" cy="196.41" rx="1.56" ry="1.88" />
<path class="t" d="M501.56 192.81 L506.56 190.47 L508.12 203.75 L503.91 206.09 Z" />
<ellipse class="" cx="490.31" cy="201.41" rx="7.5" ry="8.59" transform="rotate(-20 490.31 201.41)" fill="#fff" stroke="#111" stroke-width="1.6"/>
<ellipse class="tw" cx="488.75" cy="202.5" rx="5" ry="5.94" transform="rotate(-20 488.75 202.5)" />
<ellipse class="tw" cx="508.12" cy="154.53" rx="14.84" ry="7.03" />
<ellipse class="mw" cx="508.12" cy="151.88" rx="14.84" ry="7.03" />
<ellipse class="t" cx="508.12" cy="150.94" rx="12.19" ry="5.62" />
<ellipse class="tw" cx="508.12" cy="148.75" rx="10.62" ry="5" />
<path class="tw" d="M501.56 125.62 L501.56 146.25 L514.84 146.25 L514.84 125.62 Z" />
<ellipse class="tw" cx="508.12" cy="146.25" rx="6.56" ry="2.19" />
<rect x="501.72" y="143.59" width="12.97" height="2.66" class="w"/>
<ellipse class="tw" cx="508.12" cy="125.62" rx="6.56" ry="2.34" />
<path class="tw" d="M503.12 114.38 L503.12 125.31 L513.28 125.31 L513.28 114.38 Z" />
<ellipse class="tw" cx="508.12" cy="114.38" rx="5" ry="1.72" />
<line class="th" x1="503.12" y1="116.25" x2="513.28" y2="115.62" />
<line class="th" x1="503.12" y1="117.66" x2="513.28" y2="117.03" />
<line class="th" x1="503.12" y1="119.06" x2="513.28" y2="118.44" />
<line class="th" x1="503.12" y1="120.47" x2="513.28" y2="119.84" />
<line class="th" x1="503.12" y1="121.88" x2="513.28" y2="121.25" />
<line class="th" x1="503.12" y1="123.28" x2="513.28" y2="122.66" />
<line class="th" x1="503.12" y1="124.69" x2="513.28" y2="124.06" />
<path class="tw" d="M545.31 163.91 L551.56 160.78 L554.38 164.69 L554.38 169.69 L547.66 172.03 Z" />
<path class="tw" d="M551.56 161.09 L565.94 154.53 L570.62 156.41 L570.62 160.31 L555.94 167.34 Z" />
<ellipse class="tw" cx="568.44" cy="157.81" rx="1.72" ry="2.97" transform="rotate(-25 568.44 157.81)" />
<ellipse class="t" cx="553.75" cy="165" rx="1.72" ry="3.44" transform="rotate(-25 553.75 165)" />
<path class="axk" transform="translate(440 110) scale(0.25000)" d="M520 182 L572 158" />
<path class="ph" transform="translate(440 110) scale(0.25000)" d="M572 158 L735 245 L390 440 L532 530" />
<path class="axk" transform="translate(440 110) scale(0.25000)" d="M532 530 L580 508" />
<ellipse class="tw" cx="722.6" cy="197.6" rx="47.5" ry="27" transform="rotate(61 722.6 197.6)" />
<ellipse class="tw" cx="720.6" cy="196.6" rx="47.5" ry="27" transform="rotate(61 720.6 196.6)" />
<ellipse class="t" cx="720.6" cy="196.6" rx="43.5" ry="24" transform="rotate(61 720.6 196.6)" />
<ellipse class="tw" cx="704.69" cy="170.47" rx="7.03" ry="9.06" transform="rotate(-25 704.69 170.47)" />
<path class="t" d="M700 165 C700.52 166.56 701.56 172.16 703.12 174.38 C704.69 176.59 708.33 177.63 709.38 178.28" />
<path class="t" d="M700 176.25 L714.84 192.34" />
<path class="t" d="M702.34 178.28 L713.28 190.78" />
<path class="t" d="M709.69 163.44 L719.53 191.25" />
<path class="t" d="M712.81 163.75 L721.56 190.31" />
<path class="t" d="M722.19 193.91 L732.81 187.66 L735.31 190 L725 197.03 Z" />
<path class="t" d="M721.56 202.5 L725 230.62 L729.69 232.19 L730.94 229.38 L726.88 201.72" stroke-dasharray="5 2"/>
<path class="t" d="M714.84 192.34 L719.53 191.25 L723.44 193.91 L721.09 197.03 L716.41 196.25 Z" />
<path class="t" d="M701.56 205.62 L714.06 202.5" stroke-dasharray="4 3"/>
<path class="t" d="M587.19 210.94 C587.84 210.76 589.79 209.58 591.09 209.84 C592.4 210.1 594.35 212.06 595 212.5" />
<path class="tw" transform="translate(520 200) scale(0.15625)" d="M430 70 C440 62 470 62 482 80 L715 300 C735 320 740 350 725 380 C705 420 650 450 610 445 C595 442 585 435 580 430 L455 325 L400 375 C370 400 320 405 290 390 C265 375 260 345 270 320 L300 250 Z" />
<path class="t" transform="translate(520 200) scale(0.15625)" d="M482 80 L497 84 L728 298 C748 322 752 350 738 382 C715 425 660 455 615 450" />
<ellipse class="t" cx="617.66" cy="258.12" rx="3.28" ry="4.38" transform="rotate(-20 617.66 258.12)" />
<ellipse class="t" cx="593.12" cy="221.09" rx="1.41" ry="2.19" transform="rotate(-20 593.12 221.09)" />
<ellipse class="t" cx="570" cy="254.69" rx="1.09" ry="1.72" transform="rotate(-20 570 254.69)" />
<path class="tw" d="M634.06 245.31 L645 239.84 L647.34 243.75 L637.19 249.69 Z" />
<path class="tw" d="M645.31 240.31 L650.47 237.5 L653.12 238.75 L652.81 241.41 L647.81 243.44 Z" />
<ellipse class="mw" cx="592.19" cy="235.62" rx="5" ry="7.19" transform="rotate(-25 592.19 235.62)" />
<ellipse class="tw" cx="590.62" cy="236.25" rx="4.69" ry="6.88" transform="rotate(-25 590.62 236.25)" />
<path class="tw" d="M579.62 236.62 L593.21 229.43 L591.17 225.57 L577.57 232.75 Z" />
<line class="th" x1="579.89" y1="236.48" x2="578.26" y2="232.39" />
<line class="th" x1="580.86" y1="235.96" x2="579.23" y2="231.88" />
<line class="th" x1="581.83" y1="235.45" x2="580.2" y2="231.37" />
<line class="th" x1="582.79" y1="234.94" x2="581.16" y2="230.85" />
<line class="th" x1="583.76" y1="234.43" x2="582.13" y2="230.34" />
<line class="th" x1="584.73" y1="233.92" x2="583.1" y2="229.83" />
<line class="th" x1="585.69" y1="233.41" x2="584.06" y2="229.32" />
<line class="th" x1="586.66" y1="232.9" x2="585.03" y2="228.81" />
<line class="th" x1="587.63" y1="232.39" x2="586" y2="228.3" />
<line class="th" x1="588.59" y1="231.87" x2="586.96" y2="227.79" />
<line class="th" x1="589.56" y1="231.36" x2="587.93" y2="227.28" />
<line class="th" x1="590.53" y1="230.85" x2="588.9" y2="226.76" />
<line class="th" x1="591.5" y1="230.34" x2="589.86" y2="226.25" />
<line class="th" x1="592.46" y1="229.83" x2="590.83" y2="225.74" />
<ellipse class="tw" cx="578.59" cy="234.69" rx="1.56" ry="2.34" transform="rotate(-25 578.59 234.69)" />
<path class="tw" d="M566.72 252.85 L582.35 244.57 L580.15 240.43 L564.53 248.71 Z" />
<line class="th" x1="567" y1="252.71" x2="565.22" y2="248.34" />
<line class="th" x1="567.97" y1="252.19" x2="566.18" y2="247.83" />
<line class="th" x1="568.93" y1="251.68" x2="567.15" y2="247.32" />
<line class="th" x1="569.9" y1="251.17" x2="568.12" y2="246.81" />
<line class="th" x1="570.86" y1="250.66" x2="569.08" y2="246.3" />
<line class="th" x1="571.83" y1="250.14" x2="570.05" y2="245.78" />
<line class="th" x1="572.8" y1="249.63" x2="571.02" y2="245.27" />
<line class="th" x1="573.76" y1="249.12" x2="571.98" y2="244.76" />
<line class="th" x1="574.73" y1="248.61" x2="572.95" y2="244.25" />
<line class="th" x1="575.7" y1="248.1" x2="573.92" y2="243.73" />
<line class="th" x1="576.66" y1="247.58" x2="574.88" y2="243.22" />
<line class="th" x1="577.63" y1="247.07" x2="575.85" y2="242.71" />
<line class="th" x1="578.6" y1="246.56" x2="576.81" y2="242.2" />
<line class="th" x1="579.56" y1="246.05" x2="577.78" y2="241.69" />
<line class="th" x1="580.53" y1="245.54" x2="578.75" y2="241.17" />
<line class="th" x1="581.49" y1="245.02" x2="579.71" y2="240.66" />
<ellipse class="tw" cx="565.62" cy="250.78" rx="1.56" ry="2.5" transform="rotate(-25 565.62 250.78)" />
<path class="ph" transform="translate(440 110) scale(0.25000)" d="M470 490 L532 530" />
<path class="axk" transform="translate(440 110) scale(0.25000)" d="M532 530 L580 508" />
<ellipse class="tw" cx="552.21" cy="249.39" rx="3.71" ry="5.62" transform="rotate(-28 552.21 249.39)" />
<ellipse class="tw" cx="549.95" cy="250.59" rx="3.71" ry="5.62" transform="rotate(-28 549.95 250.59)" />
<ellipse class="t" cx="549.95" cy="250.59" rx="2.02" ry="3.15" transform="rotate(-28 549.95 250.59)" />
<ellipse class="" cx="549.95" cy="250.59" rx="1.01" ry="1.69" transform="rotate(-28 549.95 250.59)" fill="#888" stroke="#333" stroke-width="0.7"/>
<ellipse class="tw" cx="542.05" cy="264.7" rx="3.71" ry="5.62" transform="rotate(-28 542.05 264.7)" />
<ellipse class="tw" cx="539.79" cy="265.9" rx="3.71" ry="5.62" transform="rotate(-28 539.79 265.9)" />
<ellipse class="t" cx="539.79" cy="265.9" rx="2.02" ry="3.15" transform="rotate(-28 539.79 265.9)" />
<ellipse class="" cx="539.79" cy="265.9" rx="1.01" ry="1.69" transform="rotate(-28 539.79 265.9)" fill="#888" stroke="#333" stroke-width="0.7"/>
<ellipse class="tw" cx="548.3" cy="294.7" rx="3.71" ry="5.62" transform="rotate(-28 548.3 294.7)" />
<ellipse class="tw" cx="546.04" cy="295.9" rx="3.71" ry="5.62" transform="rotate(-28 546.04 295.9)" />
<ellipse class="t" cx="546.04" cy="295.9" rx="2.02" ry="3.15" transform="rotate(-28 546.04 295.9)" />
<ellipse class="" cx="546.04" cy="295.9" rx="1.01" ry="1.69" transform="rotate(-28 546.04 295.9)" fill="#888" stroke="#333" stroke-width="0.7"/>
<path class="t" d="M535.62 268.75 L565.31 252.34" />
<path class="t" d="M543.44 254.38 L566.88 242.5" />
<path class="ax" transform="translate(520 200) scale(0.15625)" d="M215 590 L405 490 L265 375" />
<path class="ax" d="M604.38 214.06 L627.81 202.34" />
<path class="ax" d="M655.94 237.5 L680 223.44" />
<path class="ph" transform="translate(520 200) scale(0.15625)" d="M575 150 L745 50" />
<path class="tw" d="M628.57 225.29 L641.86 218.73 L640.33 215.65 L627.05 222.21 Z" />
<line class="th" x1="628.85" y1="225.15" x2="627.75" y2="221.86" />
<line class="th" x1="629.83" y1="224.67" x2="628.73" y2="221.38" />
<line class="th" x1="630.82" y1="224.18" x2="629.71" y2="220.89" />
<line class="th" x1="631.8" y1="223.7" x2="630.69" y2="220.41" />
<line class="th" x1="632.78" y1="223.21" x2="631.67" y2="219.92" />
<line class="th" x1="633.76" y1="222.73" x2="632.65" y2="219.44" />
<line class="th" x1="634.74" y1="222.25" x2="633.63" y2="218.96" />
<line class="th" x1="635.72" y1="221.76" x2="634.62" y2="218.47" />
<line class="th" x1="636.7" y1="221.28" x2="635.6" y2="217.99" />
<line class="th" x1="637.68" y1="220.79" x2="636.58" y2="217.5" />
<line class="th" x1="638.66" y1="220.31" x2="637.56" y2="217.02" />
<line class="th" x1="639.64" y1="219.82" x2="638.54" y2="216.53" />
<line class="th" x1="640.62" y1="219.34" x2="639.52" y2="216.05" />
<line class="th" x1="641.6" y1="218.85" x2="640.5" y2="215.56" />
<ellipse class="tw" cx="623.91" cy="225.78" rx="3.75" ry="5" transform="rotate(-25 623.91 225.78)" />
<path class="t" d="M641.09 217.19 L649.69 212.81" />
<line class="l" x1="645" y1="268.75" x2="632.5" y2="226.56" />
<line class="l" x1="666.09" y1="260.16" x2="652.03" y2="215.62" />
<line class="l" x1="627.81" y1="300" x2="617.66" y2="269.53" />
<line class="l" x1="565" y1="313.75" x2="545" y2="271.25" />
<line class="l" x1="565" y1="313.75" x2="555" y2="257.5" />
<path class="tw" transform="translate(600 140) scale(0.15625)" d="M155 375 C155 355 165 345 180 345 L490 340 L515 360 L515 402 L495 425 L175 427 C160 425 155 410 155 400 Z" />
<path class="t" d="M680.47 196.25 L680.47 202.81" />
<ellipse class="t" cx="629.69" cy="200.16" rx="2.19" ry="2.81" />
<ellipse class="t" cx="629.69" cy="200.16" rx="1.09" ry="1.56" />
<ellipse class="t" cx="667.97" cy="200.16" rx="2.19" ry="2.81" />
<ellipse class="t" cx="667.97" cy="200.16" rx="1.09" ry="1.56" />
<ellipse class="tw" cx="646.88" cy="200.62" rx="4.69" ry="4.38" />
<path class="tw" d="M647.66 202.19 L652.34 200.47 L654.06 202.5 L654.06 213.44 L651.56 215.31 L647.66 208.75 Z" />
<path class="t" d="M649.69 205.62 L649.69 211.09" />
<ellipse class="t" cx="650.31" cy="207.5" rx="0.78" ry="1.41" />
<path class="tw" transform="translate(600 140) scale(0.15625)" d="M515 360 L740 360 L900 445 L900 487 L740 400 L515 402 Z" />
<path class="tw" d="M715.6 196.3 L804 246 C808 248.5 810.5 252 811.9 259.4 L810 292 C810 295 811 297 812 298.5 L828 316 L821.75 317.5 L806 297.5 C805 296 804.3 295 804.5 293 L806.4 262.5 C806.2 259 805 256 800 250.8 L715.6 202.6 Z"/>
<path class="tw" transform="translate(768 280) scale(0.25000)" d="M215 150 L240 145 L355 330 L345 357 L320 366 L205 180 Z" />
<ellipse class="t" cx="848" cy="363" rx="2" ry="2.75" />
<line class="l" x1="843.9" y1="240.9" x2="805.5" y2="246.6" />
<path class="tw" d="M657.81 183.75 L657.03 181.41 L668.75 173.59 L673.44 179.84 L661.72 185.62 Z" />
<line class="t" x1="661.25" y1="178.75" x2="664.06" y2="184.06" />
<line class="t" x1="662.66" y1="177.97" x2="665.47" y2="183.28" />
<line class="t" x1="664.06" y1="177.19" x2="666.88" y2="182.5" />
<line class="t" x1="665.47" y1="176.41" x2="668.28" y2="181.72" />
<line class="t" x1="666.88" y1="175.62" x2="669.69" y2="180.94" />
<line class="t" x1="668.28" y1="174.84" x2="671.09" y2="180.16" />
<path class="tw" d="M668.75 171.25 L673.44 166.56 L678.91 166.88 L681.25 171.25 L680.94 176.72 L676.56 179.84 L672.19 179.06 Z" />
<path class="t" d="M668.75 171.25 L672.19 179.06" />
<path class="t" d="M673.44 166.56 L675.78 173.59 L676.56 179.84" />
<path class="t" d="M675.78 173.59 L680.94 172.03" />
<path class="ax" d="M657.5 184.53 L644.53 192.34" />
<path class="axk" transform="translate(600 140) scale(0.15625)" d="M990 10 L780 125 M700 170 L545 250 M520 265 L430 320 M230 430 L130 490 M100 505 L55 530" />
<path class="axk" transform="translate(660 90) scale(0.15625)" d="M840 178 L395 440" />
<path class="ax" d="M760 179.06 L745.31 186.88" />
<path class="ax" d="M714.06 204.06 L653.12 236.88" />
<path class="ax" d="M628.12 201.72 L600 216.56" />
<path class="t" d="M667.19 201.25 L641.41 215" />
<path class="ax" d="M820 145.47 L745.94 185.31" />
<path class="tw" d="M767.88 135.34 L772.12 135.18 L772.12 138.88 L767.88 138.72 L767.37 141.48 L771.17 143.92 L769.86 147.19 L766.17 144.48 L764.73 146.6 L767.23 151.08 L764.91 153.18 L762.61 148.52 L760.58 149.53 L761.21 155.02 L758.41 155.46 L758.02 149.94 L755.87 149.59 L754.48 154.84 L751.84 153.53 L753.46 148.39 L751.68 146.78 L748.59 150.58 L746.72 147.81 L749.96 144.25 L748.96 141.74 L744.88 143.22 L744.2 139.62 L748.34 138.45 L748.34 135.61 L744.2 134.44 L744.88 130.84 L748.96 132.33 L749.96 129.81 L746.72 126.25 L748.59 123.48 L751.68 127.28 L753.46 125.67 L751.84 120.54 L754.48 119.22 L755.87 124.47 L758.02 124.13 L758.41 118.6 L761.21 119.04 L760.58 124.53 L762.61 125.54 L764.91 120.88 L767.23 122.99 L764.73 127.46 L766.17 129.59 L769.86 126.87 L771.17 130.14 L767.37 132.58 Z" />
<path class="t" d="M763.51 137.53 L767.88 135.34" />
<path class="t" d="M767.74 141.07 L772.12 138.88" />
<path class="t" d="M762.99 143.67 L767.37 141.48" />
<path class="t" d="M765.48 149.38 L769.86 147.19" />
<path class="t" d="M760.36 148.79 L764.73 146.6" />
<path class="t" d="M760.54 155.37 L764.91 153.18" />
<path class="t" d="M756.21 151.72 L760.58 149.53" />
<path class="t" d="M754.04 157.65 L758.41 155.46" />
<path class="t" d="M751.5 151.78 L755.87 149.59" />
<path class="t" d="M747.47 155.71 L751.84 153.53" />
<path class="t" d="M747.3 148.97 L751.68 146.78" />
<path class="t" d="M742.34 150 L746.72 147.81" />
<path class="t" d="M744.58 143.92 L748.96 141.74" />
<path class="t" d="M739.83 141.81 L744.2 139.62" />
<path class="t" d="M743.97 137.8 L748.34 135.61" />
<path class="t" d="M740.5 133.03 L744.88 130.84" />
<path class="t" d="M745.59 132 L749.96 129.81" />
<path class="t" d="M744.21 125.67 L748.59 123.48" />
<path class="t" d="M749.08 127.86 L753.46 125.67" />
<path class="t" d="M750.11 121.41 L754.48 119.22" />
<path class="t" d="M753.65 126.31 L758.02 124.13" />
<path class="t" d="M756.84 121.23 L761.21 119.04" />
<path class="t" d="M758.23 127.73 L762.61 125.54" />
<path class="t" d="M762.86 125.17 L767.23 122.99" />
<path class="t" d="M761.79 131.77 L766.17 129.59" />
<path class="t" d="M766.79 132.33 L771.17 130.14" />
<path class="tw" d="M763.51 137.53 L767.74 137.37 L767.74 141.07 L763.51 140.91 L762.99 143.67 L766.79 146.11 L765.48 149.38 L761.79 146.66 L760.36 148.79 L762.86 153.26 L760.54 155.37 L758.23 150.71 L756.21 151.72 L756.84 157.21 L754.04 157.65 L753.65 152.12 L751.5 151.78 L750.11 157.03 L747.47 155.71 L749.08 150.58 L747.3 148.97 L744.21 152.77 L742.34 150 L745.59 146.44 L744.58 143.92 L740.5 145.41 L739.83 141.81 L743.97 140.64 L743.97 137.8 L739.83 136.63 L740.5 133.03 L744.58 134.51 L745.59 132 L742.34 128.44 L744.21 125.67 L747.3 129.47 L749.08 127.86 L747.47 122.72 L750.11 121.41 L751.5 126.66 L753.65 126.31 L754.04 120.79 L756.84 121.23 L756.21 126.72 L758.23 127.73 L760.54 123.07 L762.86 125.17 L760.36 129.65 L761.79 131.77 L765.48 129.06 L766.79 132.33 L762.99 134.77 Z" />
<ellipse class="tw" cx="753.12" cy="138.75" rx="5.62" ry="9.06" />
<ellipse class="t" cx="753.75" cy="138.75" rx="4.06" ry="7.19" />
<path class="m" transform="translate(660 90) scale(0.15625)" d="M610 255 C650 280 655 340 625 375" />
<ellipse class="m" cx="780.31" cy="123.59" rx="8.12" ry="9.69" transform="rotate(-15 780.31 123.59)" />
<ellipse class="t" cx="780.31" cy="123.59" rx="5.94" ry="7.34" transform="rotate(-15 780.31 123.59)" />
<path class="tw" d="M730.31 143.91 L734.69 143.91 L734.69 160 L730.31 160 Z" />
<ellipse class="tw" cx="732.5" cy="143.91" rx="2.19" ry="0.94" />
<ellipse class="tw" cx="797.5" cy="156.41" rx="8.44" ry="10.16" transform="rotate(-15 797.5 156.41)" />
<ellipse class="t" cx="797.19" cy="156.41" rx="3.44" ry="4.38" transform="rotate(-15 797.19 156.41)" />
<ellipse class="" cx="778.44" cy="168.12" rx="4.38" ry="5.47" transform="rotate(-15 778.44 168.12)" fill="none" stroke="#000" stroke-width="1.6"/>
<path class="axk" transform="translate(660 90) scale(0.15625)" d="M840 178 L640 296 M560 343 L395 440" />
<line class="l" x1="813" y1="198.75" x2="803" y2="165" />
<line class="l" x1="791" y1="208.75" x2="780.5" y2="173.75" />
<path class="" transform="translate(700 340) scale(0.15625)" d="M868 420 L960 375 L968 405 L868 465 Z" fill="#fff" stroke="#000" stroke-width="1.8" stroke-linejoin="round"/>
<path class="" transform="translate(700 340) scale(0.15625)" d="M960 368 L995 350 L1002 374 L968 396 Z" fill="#fff" stroke="#000" stroke-width="1.4" stroke-linejoin="round"/>
<path class="" transform="translate(700 340) scale(0.15625)" d="M650 285 L795 185 C810 176 835 175 850 190 C860 200 865 215 865 225 L865 480 C860 500 845 510 810 515 C795 512 785 505 775 495 L670 385 Z" fill="#fff" stroke="#000" stroke-width="2.2" stroke-linejoin="round"/>
<path class="m" transform="translate(700 340) scale(0.15625)" d="M858 195 L876 212 L880 470 L858 506" />
<ellipse class="t" cx="825.78" cy="376.72" rx="2.97" ry="4.22" transform="rotate(-20 825.78 376.72)" />
<ellipse class="t" cx="825.78" cy="413.44" rx="2.97" ry="4.22" transform="rotate(-20 825.78 413.44)" />
<path class="b" transform="translate(700 340) scale(0.15625)" d="M855 185 L872 190 L880 212 L866 208 Z" />
<path class="" transform="translate(700 340) scale(0.15625)" d="M575 355 L690 305 L712 320 L712 352 L620 397 Z" fill="#fff" stroke="#000" stroke-width="1.8" stroke-linejoin="round"/>
<ellipse class="tw" cx="809.06" cy="391.56" rx="1.88" ry="3.91" transform="rotate(-25 809.06 391.56)" />
<path class="" transform="translate(700 340) scale(0.15625)" d="M425 320 L455 300 L480 310 L660 415 L680 440 L680 520 L660 545 L630 545 L440 420 L420 395 L420 340 Z" fill="#fff" stroke="#000" stroke-width="2.2" stroke-linejoin="round"/>
<path class="t" transform="translate(700 340) scale(0.15625)" d="M440 318 L640 432 L655 455 L655 535" />
<ellipse class="" cx="726.56" cy="435.31" rx="2.58" ry="7.81" transform="rotate(-19.47 726.56 435.31)" fill="#fff" stroke="#000" stroke-width="2.3"/>
<ellipse class="" cx="729.6" cy="433.73" rx="2.58" ry="7.81" transform="rotate(-19.47 729.6 433.73)" fill="#fff" stroke="#000" stroke-width="2.3"/>
<ellipse class="" cx="732.64" cy="432.15" rx="2.58" ry="7.81" transform="rotate(-19.47 732.64 432.15)" fill="#fff" stroke="#000" stroke-width="2.3"/>
<ellipse class="" cx="735.68" cy="430.57" rx="2.58" ry="7.81" transform="rotate(-19.47 735.68 430.57)" fill="#fff" stroke="#000" stroke-width="2.3"/>
<ellipse class="" cx="738.72" cy="428.99" rx="2.58" ry="7.81" transform="rotate(-19.47 738.72 428.99)" fill="#fff" stroke="#000" stroke-width="2.3"/>
<ellipse class="" cx="741.75" cy="427.41" rx="2.58" ry="7.81" transform="rotate(-19.47 741.75 427.41)" fill="#fff" stroke="#000" stroke-width="2.3"/>
<ellipse class="" cx="744.79" cy="425.83" rx="2.58" ry="7.81" transform="rotate(-19.47 744.79 425.83)" fill="#fff" stroke="#000" stroke-width="2.3"/>
<ellipse class="" cx="747.83" cy="424.25" rx="2.58" ry="7.81" transform="rotate(-19.47 747.83 424.25)" fill="#fff" stroke="#000" stroke-width="2.3"/>
<ellipse class="" cx="750.87" cy="422.67" rx="2.58" ry="7.81" transform="rotate(-19.47 750.87 422.67)" fill="#fff" stroke="#000" stroke-width="2.3"/>
<ellipse class="" cx="753.91" cy="421.09" rx="2.58" ry="7.81" transform="rotate(-19.47 753.91 421.09)" fill="#fff" stroke="#000" stroke-width="2.3"/>
<ellipse class="" cx="756.94" cy="419.51" rx="2.58" ry="7.81" transform="rotate(-19.47 756.94 419.51)" fill="#fff" stroke="#000" stroke-width="2.3"/>
<ellipse class="" cx="759.98" cy="417.93" rx="2.58" ry="7.81" transform="rotate(-19.47 759.98 417.93)" fill="#fff" stroke="#000" stroke-width="2.3"/>
<ellipse class="" cx="763.02" cy="416.35" rx="2.58" ry="7.81" transform="rotate(-19.47 763.02 416.35)" fill="#fff" stroke="#000" stroke-width="2.3"/>
<ellipse class="" cx="766.06" cy="414.77" rx="2.58" ry="7.81" transform="rotate(-19.47 766.06 414.77)" fill="#fff" stroke="#000" stroke-width="2.3"/>
<ellipse class="" cx="769.1" cy="413.19" rx="2.58" ry="7.81" transform="rotate(-19.47 769.1 413.19)" fill="#fff" stroke="#000" stroke-width="2.3"/>
<ellipse class="" cx="772.14" cy="411.61" rx="2.58" ry="7.81" transform="rotate(-19.47 772.14 411.61)" fill="#fff" stroke="#000" stroke-width="2.3"/>
<ellipse class="" cx="775.17" cy="410.03" rx="2.58" ry="7.81" transform="rotate(-19.47 775.17 410.03)" fill="#fff" stroke="#000" stroke-width="2.3"/>
<ellipse class="" cx="778.21" cy="408.45" rx="2.58" ry="7.81" transform="rotate(-19.47 778.21 408.45)" fill="#fff" stroke="#000" stroke-width="2.3"/>
<ellipse class="" cx="781.25" cy="406.88" rx="2.58" ry="7.81" transform="rotate(-19.47 781.25 406.88)" fill="#fff" stroke="#000" stroke-width="2.3"/>
<ellipse class="tw" cx="770.49" cy="395.33" rx="3.71" ry="5.62" transform="rotate(-28 770.49 395.33)" />
<ellipse class="tw" cx="768.23" cy="396.53" rx="3.71" ry="5.62" transform="rotate(-28 768.23 396.53)" />
<ellipse class="t" cx="768.23" cy="396.53" rx="2.02" ry="3.15" transform="rotate(-28 768.23 396.53)" />
<ellipse class="" cx="768.23" cy="396.53" rx="1.01" ry="1.69" transform="rotate(-28 768.23 396.53)" fill="#888" stroke="#333" stroke-width="0.7"/>
<ellipse class="tw" cx="797.83" cy="411.73" rx="3.71" ry="5.62" transform="rotate(-28 797.83 411.73)" />
<ellipse class="tw" cx="795.57" cy="412.93" rx="3.71" ry="5.62" transform="rotate(-28 795.57 412.93)" />
<ellipse class="t" cx="795.57" cy="412.93" rx="2.02" ry="3.15" transform="rotate(-28 795.57 412.93)" />
<ellipse class="" cx="795.57" cy="412.93" rx="1.01" ry="1.69" transform="rotate(-28 795.57 412.93)" fill="#888" stroke="#333" stroke-width="0.7"/>
<path class="tw" d="M795.61 361.76 L782.01 368.06 L784.24 372.88 L797.84 366.58 Z" />
<line class="" x1="794.07" y1="362.48" x2="795.68" y2="367.58" stroke="#666" stroke-width="0.7"/>
<line class="" x1="792.52" y1="363.19" x2="794.14" y2="368.3" stroke="#666" stroke-width="0.7"/>
<line class="" x1="790.98" y1="363.9" x2="792.6" y2="369.01" stroke="#666" stroke-width="0.7"/>
<line class="" x1="789.44" y1="364.62" x2="791.05" y2="369.73" stroke="#666" stroke-width="0.7"/>
<line class="" x1="787.9" y1="365.33" x2="789.51" y2="370.44" stroke="#666" stroke-width="0.7"/>
<line class="" x1="786.35" y1="366.05" x2="787.97" y2="371.15" stroke="#666" stroke-width="0.7"/>
<line class="" x1="784.81" y1="366.76" x2="786.42" y2="371.87" stroke="#666" stroke-width="0.7"/>
<line class="" x1="783.27" y1="367.48" x2="784.88" y2="372.58" stroke="#666" stroke-width="0.7"/>
<ellipse class="tw" cx="797.32" cy="363.9" rx="3.28" ry="6.23" transform="rotate(155.16 797.32 363.9)" />
<path class="tw" d="M797.27 360.3 L798.73 356.01 L802.95 357.68 L805.7 363.63 L804.25 367.92 L800.03 366.26 Z" />
<path class="t" d="M798.73 356.01 L795.16 357.67" />
<path class="t" d="M804.25 367.92 L800.67 369.58" />
<path class="ax" transform="translate(700 340) scale(0.15625)" d="M520 215 L520 320" />
<path class="ax" transform="translate(700 340) scale(0.15625)" d="M690 430 L690 672" />
<line class="t" x1="848.44" y1="363.44" x2="837.5" y2="369.69" />
<path class="tw" d="M821.81 444.42 L810.13 450.26 L812.37 454.74 L824.05 448.9 Z" />
<line class="" x1="820.29" y1="445.18" x2="821.92" y2="449.96" stroke="#666" stroke-width="0.7"/>
<line class="" x1="818.77" y1="445.94" x2="820.4" y2="450.72" stroke="#666" stroke-width="0.7"/>
<line class="" x1="817.25" y1="446.71" x2="818.88" y2="451.48" stroke="#666" stroke-width="0.7"/>
<line class="" x1="815.73" y1="447.47" x2="817.36" y2="452.24" stroke="#666" stroke-width="0.7"/>
<line class="" x1="814.21" y1="448.23" x2="815.84" y2="453" stroke="#666" stroke-width="0.7"/>
<line class="" x1="812.69" y1="448.99" x2="814.32" y2="453.76" stroke="#666" stroke-width="0.7"/>
<line class="" x1="811.17" y1="449.75" x2="812.8" y2="454.52" stroke="#666" stroke-width="0.7"/>
<ellipse class="tw" cx="823.53" cy="446.36" rx="3.38" ry="6.41" transform="rotate(153.43 823.53 446.36)" />
<path class="tw" d="M823.37 442.66 L824.74 438.21 L829.13 439.79 L832.14 445.83 L830.78 450.28 L826.39 448.7 Z" />
<path class="t" d="M824.74 438.21 L821.12 440.02" />
<path class="t" d="M830.78 450.28 L827.16 452.09" />
<path class="ax" transform="translate(580 340) scale(0.25000)" d="M910 330 L910 460 L925 455" />
<line class="l" x1="828.75" y1="483.75" x2="820" y2="455" />
<path class="" transform="translate(600 420) scale(0.15625)" d="M560 240 L700 160 L740 195 L600 275 Z" fill="#fff" stroke="#000" stroke-width="1.8" stroke-linejoin="round"/>
<path class="" transform="translate(600 420) scale(0.15625)" d="M680 105 L710 92 L790 100 L830 115 L845 195 L815 215 L760 205 L700 175 L680 150 Z" fill="#fff" stroke="#000" stroke-width="2.2" stroke-linejoin="round"/>
<path class="t" transform="translate(600 420) scale(0.15625)" d="M790 100 L800 190 L815 215 M800 190 L760 205" />
<ellipse class="tw" cx="713.75" cy="446.88" rx="2.19" ry="3.91" transform="rotate(-28 713.75 446.88)" />
<line class="l" x1="736.72" y1="488.75" x2="727.34" y2="454.38" />
<path class="" transform="translate(600 420) scale(0.15625)" d="M190 650 L340 580 L360 625 L215 690 Z" fill="#fff" stroke="#000" stroke-width="1.8" stroke-linejoin="round"/>
<path class="" transform="translate(600 420) scale(0.15625)" d="M200 415 L345 315 C365 305 390 310 405 330 C412 340 415 350 415 360 L420 610 C415 630 400 645 360 650 C345 645 335 632 330 625 L280 590 L200 480 Z" fill="#fff" stroke="#000" stroke-width="2.2" stroke-linejoin="round"/>
<path class="t" transform="translate(600 420) scale(0.15625)" d="M398 322 L404 345 L408 625 L385 648" />
<ellipse class="t" cx="657.5" cy="475.94" rx="1.72" ry="2.66" transform="rotate(-20 657.5 475.94)" />
<ellipse class="tw" cx="636.72" cy="492.19" rx="3.75" ry="4.69" transform="rotate(-20 636.72 492.19)" />
<ellipse class="t" cx="635.62" cy="492.81" rx="2.81" ry="3.75" transform="rotate(-20 635.62 492.81)" />
<ellipse class="tw" cx="655.62" cy="513.75" rx="3.75" ry="6.25" transform="rotate(-25 655.62 513.75)" />
<path class="" transform="translate(600 420) scale(0.15625)" d="M185 655 L335 588 L352 628 L210 692 Z" fill="#fff" stroke="#000" stroke-width="1.8" stroke-linejoin="round"/>
<path class="" transform="translate(560 450) scale(0.25000)" d="M265 305 L292 290 L305 315 L275 328 Z" fill="#fff" stroke="#000" stroke-width="1.4" stroke-linejoin="round"/>
<path class="" transform="translate(600 420) scale(0.15625)" d="M410 195 L440 175 L470 185 L640 285 L665 315 L665 395 L640 420 L610 415 L430 305 L410 280 Z" fill="#fff" stroke="#000" stroke-width="2.2" stroke-linejoin="round"/>
<path class="t" transform="translate(600 420) scale(0.15625)" d="M428 192 L625 305 L642 330 L642 412" />
<ellipse class="t" cx="668.44" cy="455.16" rx="1.41" ry="2.19" transform="rotate(-20 668.44 455.16)" />
<ellipse class="t" cx="696.56" cy="471.56" rx="1.41" ry="2.19" transform="rotate(-20 696.56 471.56)" />
<path class="" transform="translate(600 420) scale(0.15625)" d="M415 330 L500 285 L522 290 L530 312 L430 367 Z" fill="#fff" stroke="#000" stroke-width="1.8" stroke-linejoin="round"/>
<ellipse class="tw" cx="680.62" cy="466.88" rx="2.03" ry="3.75" transform="rotate(-25 680.62 466.88)" />
<path class="tw" d="M641.9 453.66 L655.05 447.4 L652.76 442.6 L639.62 448.86 Z" />
<line class="" x1="643.44" y1="452.93" x2="641.77" y2="447.84" stroke="#666" stroke-width="0.7"/>
<line class="" x1="644.97" y1="452.2" x2="643.3" y2="447.11" stroke="#666" stroke-width="0.7"/>
<line class="" x1="646.51" y1="451.47" x2="644.84" y2="446.38" stroke="#666" stroke-width="0.7"/>
<line class="" x1="648.04" y1="450.74" x2="646.37" y2="445.65" stroke="#666" stroke-width="0.7"/>
<line class="" x1="649.58" y1="450" x2="647.91" y2="444.92" stroke="#666" stroke-width="0.7"/>
<line class="" x1="651.11" y1="449.27" x2="649.44" y2="444.18" stroke="#666" stroke-width="0.7"/>
<line class="" x1="652.64" y1="448.54" x2="650.97" y2="443.45" stroke="#666" stroke-width="0.7"/>
<line class="" x1="654.18" y1="447.81" x2="652.51" y2="442.72" stroke="#666" stroke-width="0.7"/>
<ellipse class="tw" cx="640.17" cy="451.54" rx="3.28" ry="6.23" transform="rotate(-25.46 640.17 451.54)" />
<path class="tw" d="M640.25 455.14 L638.84 459.44 L634.61 457.82 L631.79 451.9 L633.2 447.59 L637.43 449.21 Z" />
<path class="t" d="M638.84 459.44 L642.4 457.75" />
<path class="t" d="M633.2 447.59 L636.75 445.9" />
<path class="ax" transform="translate(600 420) scale(0.15625)" d="M380 145 L380 260 L405 252" />
<path class="ax" transform="translate(600 420) scale(0.15625)" d="M580 345 L580 640 L520 672" />
<line class="l" x1="623.44" y1="420" x2="632.81" y2="447.34" />
<path class="tw" d="M674.45 531.69 L687.44 524.7 L685.06 520.3 L672.08 527.29 Z" />
<line class="" x1="675.95" y1="530.89" x2="674.18" y2="526.16" stroke="#666" stroke-width="0.7"/>
<line class="" x1="677.45" y1="530.08" x2="675.68" y2="525.35" stroke="#666" stroke-width="0.7"/>
<line class="" x1="678.94" y1="529.27" x2="677.17" y2="524.55" stroke="#666" stroke-width="0.7"/>
<line class="" x1="680.44" y1="528.47" x2="678.67" y2="523.74" stroke="#666" stroke-width="0.7"/>
<line class="" x1="681.94" y1="527.66" x2="680.17" y2="522.94" stroke="#666" stroke-width="0.7"/>
<line class="" x1="683.43" y1="526.86" x2="681.66" y2="522.13" stroke="#666" stroke-width="0.7"/>
<line class="" x1="684.93" y1="526.05" x2="683.16" y2="521.32" stroke="#666" stroke-width="0.7"/>
<line class="" x1="686.43" y1="525.24" x2="684.66" y2="520.52" stroke="#666" stroke-width="0.7"/>
<ellipse class="tw" cx="672.67" cy="529.81" rx="3.38" ry="6.41" transform="rotate(-28.3 672.67 529.81)" />
<path class="tw" d="M672.95 533.5 L671.71 537.99 L667.28 536.55 L664.08 530.6 L665.31 526.11 L669.74 527.55 Z" />
<path class="t" d="M671.71 537.99 L675.28 536.07" />
<path class="t" d="M665.31 526.11 L668.88 524.19" />
<line class="ax" x1="690.5" y1="473.75" x2="690.5" y2="521.25" />
<ellipse class="tw" cx="606.75" cy="540" rx="7.5" ry="9.5" transform="rotate(-15 606.75 540)" />
<ellipse class="t" cx="606.5" cy="540" rx="3" ry="3.8" transform="rotate(-15 606.5 540)" />
<ellipse class="" cx="619.5" cy="533.25" rx="4.25" ry="5.5" transform="rotate(-15 619.5 533.25)" fill="none" stroke="#000" stroke-width="1.5"/>
<line class="l" x1="593.75" y1="498.75" x2="605" y2="531.25" />
<line class="l" x1="632.5" y1="571.25" x2="621.25" y2="538.75" />
<line class="l" x1="682" y1="571.25" x2="671.25" y2="538.75" />
<path class="t" d="M597.5 546.25 L626.25 528.75" />
<ellipse class="tw" cx="876.75" cy="383.75" rx="7.75" ry="10" transform="rotate(-15 876.75 383.75)" />
<ellipse class="t" cx="876.5" cy="383.75" rx="3.1" ry="4" transform="rotate(-15 876.5 383.75)" />
<ellipse class="" cx="863.5" cy="392" rx="4.25" ry="5.5" transform="rotate(-15 863.5 392)" fill="none" stroke="#000" stroke-width="1.5"/>
<path class="t" d="M855.5 397 L914.25 362.5" />
<line class="l" x1="853" y1="306.25" x2="864.25" y2="344.5" />
<line class="l" x1="959.25" y1="295" x2="968" y2="322" />
<line class="l" x1="776.75" y1="333.75" x2="786.75" y2="360" />
<line class="l" x1="876" y1="432.5" x2="864.25" y2="397.5" />
<line class="l" x1="890.5" y1="426.25" x2="879.25" y2="393.75" />
<line class="l" x1="905.5" y1="273.5" x2="912.5" y2="300" />
<ellipse class="" cx="973.78" cy="327.76" rx="5.94" ry="8.25" transform="rotate(-28 973.78 327.76)" fill="#fff" stroke="#000" stroke-width="1.9"/>
<ellipse class="" cx="969.77" cy="329.89" rx="5.94" ry="8.25" transform="rotate(-28 969.77 329.89)" fill="#fff" stroke="#000" stroke-width="1.9"/>
<ellipse class="t" cx="969.41" cy="330.08" rx="3.46" ry="5.12" transform="rotate(-28 969.41 330.08)" />
<path class="t" d="M967.08 325.71 L971.73 334.45" />
<path class="t" d="M966.49 331.63 L972.32 328.53" />
<ellipse class="" cx="869.93" cy="350.31" rx="5.76" ry="8" transform="rotate(-28 869.93 350.31)" fill="#fff" stroke="#000" stroke-width="1.9"/>
<ellipse class="" cx="866.04" cy="352.38" rx="5.76" ry="8" transform="rotate(-28 866.04 352.38)" fill="#fff" stroke="#000" stroke-width="1.9"/>
<ellipse class="t" cx="865.69" cy="352.56" rx="3.36" ry="4.96" transform="rotate(-28 865.69 352.56)" />
<path class="t" d="M863.44 348.33 L867.94 356.8" />
<path class="t" d="M862.87 354.07 L868.52 351.06" />
<path class="t" d="M963 333.75 L953 339.5" />
<path class="t" d="M874.25 348 L883 343.75" />
<path class="tw" transform="translate(400 250) scale(0.25000)" d="M-96 566 L300 335 C320 328 340 328 400 335 C430 335 455 300 465 280 C470 255 480 235 500 220 L540 200 L555 225 L520 250 C505 262 500 280 490 300 C480 330 455 360 400 370 C370 372 345 362 330 365 L-80 598 Z" />
<ellipse class="tw" cx="537" cy="303" rx="2" ry="3.5" transform="rotate(-28 537 303)" />
<ellipse class="tw" cx="378" cy="395.5" rx="2.4" ry="4.4" transform="rotate(-28 378 395.5)" />
<line class="l" x1="441.25" y1="392.5" x2="400" y2="387" />
<path class="" transform="translate(230 380) scale(0.15625)" d="M380 115 L560 275 C580 300 582 330 572 352 C560 385 510 415 440 418 L385 365 L330 315 L290 345 C250 372 210 368 180 352 C150 335 140 300 150 262 L190 235 L380 115 Z" fill="#fff" stroke="#000" stroke-width="2" stroke-linejoin="round"/>
<path class="" transform="translate(230 380) scale(0.15625)" d="M290 440 L320 415 L335 410 L460 345 L490 392 L350 452 L340 456 L302 472 Z" fill="#fff" stroke="#000" stroke-width="2" stroke-linejoin="round"/>
<ellipse class="tw" cx="305" cy="435" rx="4.38" ry="6.25" transform="rotate(-25 305 435)" />
<ellipse class="tw" cx="276.88" cy="451.25" rx="1.72" ry="2.81" transform="rotate(-25 276.88 451.25)" />
<path class="t" d="M280.31 444.84 L283.12 451.25" />
<ellipse class="t" cx="260.47" cy="429.69" rx="2.19" ry="2.19" />
<path class="t" d="M258.44 429.69 L262.5 429.69" />
<path class="t" d="M260.47 427.66 L260.47 431.72" />
<path class="" transform="translate(230 290) scale(0.15625)" d="M235 200 L265 260 C275 300 285 380 288 450 L285 510 L255 555 L252 940 L375 965 L378 672 L375 615 C365 560 350 470 330 370 C320 330 300 280 262 205 Z" fill="#fff" stroke="none"/>
<path class="" transform="translate(230 290) scale(0.15625)" d="M235 200 L265 260 C275 300 285 380 288 450 L285 510 L255 555 L252 790" fill="none" stroke="#000" stroke-width="2" stroke-linejoin="round" stroke-linecap="round"/>
<path class="" transform="translate(230 290) scale(0.15625)" d="M262 205 C300 280 320 330 330 370 C350 470 365 560 375 615" fill="none" stroke="#000" stroke-width="2.4" stroke-linejoin="round" stroke-linecap="round"/>
<path class="t" transform="translate(230 290) scale(0.15625)" d="M275 230 C300 290 320 350 335 440 L352 570" />
<path class="t" transform="translate(230 290) scale(0.15625)" d="M285 510 L330 530 L352 600 M352 570 L358 900 M375 615 L378 900" />
<path class="t" transform="translate(230 290) scale(0.15625)" d="M255 570 L345 610" stroke-dasharray="4 2"/>
<path class="" transform="translate(230 290) scale(0.15625)" d="M180 85 C182 72 200 66 212 72 L262 150 C270 170 268 195 255 205 C245 207 240 205 235 200 L195 140 Z" fill="#fff" stroke="#000" stroke-width="2" stroke-linejoin="round"/>
<path class="t" transform="translate(230 290) scale(0.15625)" d="M200 85 L250 170" />
<ellipse class="tw" cx="272.19" cy="415.94" rx="13.28" ry="16.41" transform="rotate(-20 272.19 415.94)" />
<ellipse class="t" cx="270.94" cy="416.72" rx="10" ry="12.5" transform="rotate(-20 270.94 416.72)" />
<ellipse class="mw" cx="270" cy="417.5" rx="5.62" ry="6.88" transform="rotate(-20 270 417.5)" />
<ellipse class="t" cx="269.06" cy="417.97" rx="2.81" ry="3.91" transform="rotate(-20 269.06 417.97)" />
<path class="axk" transform="translate(230 380) scale(0.15625)" d="M270 232 L140 300" />
<path class="axk" transform="translate(230 380) scale(0.15625)" d="M125 308 L100 322 M40 355 L0 378" />
<line class="l" x1="307.34" y1="472.19" x2="298.75" y2="446.41" />
<path class="" transform="translate(350 290) scale(0.15625)" d="M-175 215 C-165 195 -120 165 -60 125 C-20 100 30 85 60 88 C130 100 200 150 270 215 C330 290 375 380 390 425 L290 480 L270 485 L255 470 L250 455 L120 515 L105 500 L90 450 L20 430 L5 410 L-25 155 L-150 210 L-165 225 Z" fill="#fff" stroke="#000" stroke-width="1.7" stroke-linejoin="round"/>
<path class="t" transform="translate(350 290) scale(0.15625)" d="M255 455 L275 445 L290 480" />
<path class="m" d="M348.28 312.19 L350.94 309.84 L356.88 310.78 L354.53 313.75 L354.22 315.94 L349.38 318.12 L349.06 315 Z" />
<path class="m" d="M359.69 322.03 L362.81 323.59 L365 320.94 L371.25 319.69 L376.41 324.69 L378.75 323.12 L372.19 316.88 L363.91 317.34 Z" />
<path class="m" d="M369.06 330.94 L372.19 332.5 L374.06 329.84 L380.31 328.75 L386.25 334.53 L388.59 332.97 L381.09 325.94 L372.81 326.72 Z" />
<path class="m" d="M378.28 340.31 L381.41 341.88 L383.12 339.22 L389.38 338.44 L394.38 343.91 L396.72 342.34 L390 335.62 L381.88 336.09 Z" />
<path class="m" d="M385 351.25 L388.12 352.81 L390 350.16 L395.62 349.38 L399.84 354.84 L402.19 353.28 L396.25 346.56 L388.75 347.03 Z" />
<ellipse class="" cx="374.22" cy="357.19" rx="5.47" ry="7.81" transform="rotate(-15 374.22 357.19)" fill="none" stroke="#000" stroke-width="2" stroke-linejoin="round" stroke-linecap="round"/>
<path class="axk" transform="translate(350 290) scale(0.15625)" d="M175 420 L-30 525" />
<path class="axk" transform="translate(350 290) scale(0.15625)" d="M-45 532 L-95 558" />
<path class="axk" transform="translate(350 290) scale(0.15625)" d="M345 300 L430 265 M355 320 L440 285" />
<path class="t" transform="translate(350 290) scale(0.15625)" d="M345 275 L500 200" />
<line class="l" x1="470.31" y1="371.25" x2="395.31" y2="362.66" />
<line class="l" x1="496.09" y1="351.72" x2="437.5" y2="321.25" />
<line class="l" x1="496.09" y1="351.72" x2="431.25" y2="331.41" />
<ellipse class="tw" cx="435.43" cy="314.81" rx="3.92" ry="5.94" transform="rotate(-28 435.43 314.81)" />
<ellipse class="tw" cx="433.04" cy="316.07" rx="3.92" ry="5.94" transform="rotate(-28 433.04 316.07)" />
<ellipse class="t" cx="433.04" cy="316.07" rx="2.14" ry="3.33" transform="rotate(-28 433.04 316.07)" />
<ellipse class="" cx="433.04" cy="316.07" rx="1.07" ry="1.78" transform="rotate(-28 433.04 316.07)" fill="#888" stroke="#333" stroke-width="0.7"/>
<ellipse class="tw" cx="428.08" cy="329.34" rx="3.92" ry="5.94" transform="rotate(-28 428.08 329.34)" />
<ellipse class="tw" cx="425.7" cy="330.61" rx="3.92" ry="5.94" transform="rotate(-28 425.7 330.61)" />
<ellipse class="t" cx="425.7" cy="330.61" rx="2.14" ry="3.33" transform="rotate(-28 425.7 330.61)" />
<ellipse class="" cx="425.7" cy="330.61" rx="1.07" ry="1.78" transform="rotate(-28 425.7 330.61)" fill="#888" stroke="#333" stroke-width="0.7"/>
<ellipse class="tw" cx="339.33" cy="369.49" rx="3.92" ry="5.94" transform="rotate(-28 339.33 369.49)" />
<ellipse class="tw" cx="336.95" cy="370.76" rx="3.92" ry="5.94" transform="rotate(-28 336.95 370.76)" />
<ellipse class="t" cx="336.95" cy="370.76" rx="2.14" ry="3.33" transform="rotate(-28 336.95 370.76)" />
<ellipse class="" cx="336.95" cy="370.76" rx="1.07" ry="1.78" transform="rotate(-28 336.95 370.76)" fill="#888" stroke="#333" stroke-width="0.7"/>
<ellipse class="tw" cx="331.05" cy="384.02" rx="3.92" ry="5.94" transform="rotate(-28 331.05 384.02)" />
<ellipse class="tw" cx="328.67" cy="385.29" rx="3.92" ry="5.94" transform="rotate(-28 328.67 385.29)" />
<ellipse class="t" cx="328.67" cy="385.29" rx="2.14" ry="3.33" transform="rotate(-28 328.67 385.29)" />
<ellipse class="" cx="328.67" cy="385.29" rx="1.07" ry="1.78" transform="rotate(-28 328.67 385.29)" fill="#888" stroke="#333" stroke-width="0.7"/>
<line class="l" x1="315.94" y1="349.38" x2="333.12" y2="365" />
<line class="l" x1="315.94" y1="349.38" x2="325.31" y2="379.84" />
<line class="l" x1="297.19" y1="297.03" x2="258.91" y2="291.56" />
<ellipse class="tw" cx="367.46" cy="400.12" rx="3.92" ry="5.94" transform="rotate(-28 367.46 400.12)" />
<ellipse class="tw" cx="365.07" cy="401.39" rx="3.92" ry="5.94" transform="rotate(-28 365.07 401.39)" />
<ellipse class="t" cx="365.07" cy="401.39" rx="2.14" ry="3.33" transform="rotate(-28 365.07 401.39)" />
<ellipse class="" cx="365.07" cy="401.39" rx="1.07" ry="1.78" transform="rotate(-28 365.07 401.39)" fill="#888" stroke="#333" stroke-width="0.7"/>
<line class="l" x1="412.5" y1="407.5" x2="373.5" y2="403" />
<path class="ax" transform="translate(230 380) scale(0.15625)" d="M380 105 L560 20" />
<path class="ax" transform="translate(230 380) scale(0.15625)" d="M440 135 L600 55" />
<path class="ax" transform="translate(230 380) scale(0.15625)" d="M470 170 L580 120 L720 220 L850 150" />
<path class="ax" transform="translate(230 290) scale(0.15625)" d="M740 490 L420 660" />
<ellipse class="tw" cx="548.85" cy="294.76" rx="3.96" ry="6" transform="rotate(-28 548.85 294.76)" />
<ellipse class="tw" cx="546.44" cy="296.05" rx="3.96" ry="6" transform="rotate(-28 546.44 296.05)" />
<ellipse class="t" cx="546.44" cy="296.05" rx="2.16" ry="3.36" transform="rotate(-28 546.44 296.05)" />
<ellipse class="" cx="546.44" cy="296.05" rx="1.08" ry="1.8" transform="rotate(-28 546.44 296.05)" fill="#888" stroke="#333" stroke-width="0.7"/>
<line class="l" x1="542.5" y1="333.75" x2="547" y2="302.5" />
<path class="ax" transform="translate(400 250) scale(0.25000)" d="M615 170 L735 105 L645 40" />
<path class="tw" transform="translate(230 380) scale(0.15625)" d="M785 400 L800 330 L840 280 L900 232 L970 275 L945 300 L1024 345 L1024 410 L905 370 L890 390 L900 450 L940 500 L960 535 L960 575 L885 605 L885 585 L830 555 L790 480 Z" />
<path class="t" transform="translate(230 380) scale(0.15625)" d="M885 585 L960 535 M905 340 L945 300" />
<ellipse class="t" cx="360.94" cy="444.38" rx="3.91" ry="1.72" transform="rotate(-10 360.94 444.38)" />
<line class="l" x1="412" y1="457.5" x2="373.6" y2="453" />
<ellipse class="tw" cx="242.8" cy="469.8" rx="47.5" ry="27" transform="rotate(61 242.8 469.8)" />
<ellipse class="tw" cx="244.8" cy="468.8" rx="47.5" ry="27" transform="rotate(61 244.8 468.8)" />
<ellipse class="t" cx="244.8" cy="468.8" rx="43.5" ry="24" transform="rotate(61 244.8 468.8)" />
<ellipse class="tw" cx="231.25" cy="440.47" rx="7.03" ry="9.38" transform="rotate(-25 231.25 440.47)" />
<path class="t" d="M226.56 435.78 C226.95 437.34 227.34 442.94 228.91 445.16 C230.47 447.37 234.77 448.41 235.94 449.06" />
<ellipse class="tw" cx="245.31" cy="468.12" rx="4.22" ry="6.56" transform="rotate(-25 245.31 468.12)" />
<path class="t" d="M236.72 448.28 L243.44 462.34" />
<path class="t" d="M239.84 446.72 L246.09 461.56" />
<path class="t" d="M250 465.47 L262.81 457.19" stroke-dasharray="5 2"/>
<path class="t" d="M250.78 468.12 L264.84 460.31" stroke-dasharray="5 2"/>
<path class="t" d="M241.41 471.72 L225 480.62" stroke-dasharray="5 2"/>
<path class="t" d="M242.19 474.06 L227.34 482.66" stroke-dasharray="5 2"/>
<path class="t" d="M246.56 474.84 L252.34 501.41" stroke-dasharray="5 2"/>
<path class="t" d="M249.69 474.38 L256.56 500.62" stroke-dasharray="5 2"/>
<path class="t" d="M250 471.72 L270.31 491.25" />
<path class="t" d="M247.66 473.28 L267.97 494.38" />
<path class="t" d="M218.75 441.25 L223.44 461.56" stroke-dasharray="5 2"/>
<path class="tw" d="M200.14 461.69 L204.61 461.52 L204.61 465.35 L200.14 465.19 L199.6 468.04 L203.61 470.56 L202.23 473.95 L198.33 471.13 L196.82 473.33 L199.46 477.96 L197.01 480.13 L194.57 475.32 L192.44 476.36 L193.1 482.03 L190.15 482.5 L189.73 476.78 L187.46 476.43 L186 481.85 L183.21 480.49 L184.92 475.19 L183.04 473.52 L179.78 477.45 L177.8 474.58 L181.23 470.9 L180.17 468.3 L175.86 469.83 L175.15 466.12 L179.52 464.9 L179.52 461.97 L175.15 460.76 L175.86 457.04 L180.17 458.57 L181.23 455.97 L177.8 452.29 L179.78 449.43 L183.04 453.36 L184.92 451.69 L183.21 446.38 L186 445.03 L187.46 450.45 L189.73 450.09 L190.15 444.38 L193.1 444.84 L192.44 450.52 L194.57 451.56 L197.01 446.74 L199.46 448.92 L196.82 453.54 L198.33 455.74 L202.23 452.93 L203.61 456.32 L199.6 458.84 Z" />
<path class="t" d="M195.46 464.19 L200.14 461.69" />
<path class="t" d="M199.93 467.85 L204.61 465.35" />
<path class="t" d="M194.91 470.54 L199.6 468.04" />
<path class="t" d="M197.54 476.45 L202.23 473.95" />
<path class="t" d="M192.13 475.83 L196.82 473.33" />
<path class="t" d="M192.32 482.63 L197.01 480.13" />
<path class="t" d="M187.75 478.86 L192.44 476.36" />
<path class="t" d="M185.46 485 L190.15 482.5" />
<path class="t" d="M182.78 478.93 L187.46 476.43" />
<path class="t" d="M178.53 482.99 L183.21 480.49" />
<path class="t" d="M178.35 476.02 L183.04 473.52" />
<path class="t" d="M173.11 477.08 L177.8 474.58" />
<path class="t" d="M175.48 470.8 L180.17 468.3" />
<path class="t" d="M170.46 468.62 L175.15 466.12" />
<path class="t" d="M174.83 464.47 L179.52 461.97" />
<path class="t" d="M171.17 459.54 L175.86 457.04" />
<path class="t" d="M176.54 458.47 L181.23 455.97" />
<path class="t" d="M175.09 451.93 L179.78 449.43" />
<path class="t" d="M180.23 454.19 L184.92 451.69" />
<path class="t" d="M181.31 447.53 L186 445.03" />
<path class="t" d="M185.05 452.59 L189.73 450.09" />
<path class="t" d="M188.42 447.34 L193.1 444.84" />
<path class="t" d="M189.89 454.06 L194.57 451.56" />
<path class="t" d="M194.77 451.42 L199.46 448.92" />
<path class="t" d="M193.64 458.24 L198.33 455.74" />
<path class="t" d="M198.93 458.82 L203.61 456.32" />
<path class="tw" d="M195.46 464.19 L199.93 464.02 L199.93 467.85 L195.46 467.69 L194.91 470.54 L198.93 473.06 L197.54 476.45 L193.64 473.63 L192.13 475.83 L194.77 480.46 L192.32 482.63 L189.89 477.82 L187.75 478.86 L188.42 484.53 L185.46 485 L185.05 479.28 L182.78 478.93 L181.31 484.35 L178.53 482.99 L180.23 477.69 L178.35 476.02 L175.09 479.95 L173.11 477.08 L176.54 473.4 L175.48 470.8 L171.17 472.33 L170.46 468.62 L174.83 467.4 L174.83 464.47 L170.46 463.26 L171.17 459.54 L175.48 461.07 L176.54 458.47 L173.11 454.79 L175.09 451.93 L178.35 455.86 L180.23 454.19 L178.53 448.88 L181.31 447.53 L182.78 452.95 L185.05 452.59 L185.46 446.88 L188.42 447.34 L187.75 453.02 L189.89 454.06 L192.32 449.24 L194.77 451.42 L192.13 456.04 L193.64 458.24 L197.54 455.43 L198.93 458.82 L194.91 461.34 Z" />
<ellipse class="tw" cx="183.28" cy="467.03" rx="4.69" ry="7.19" transform="rotate(-15 183.28 467.03)" />
<ellipse class="m" cx="164.84" cy="477.5" rx="7.81" ry="9.69" transform="rotate(-15 164.84 477.5)" />
<ellipse class="t" cx="164.84" cy="477.5" rx="5.62" ry="7.19" transform="rotate(-15 164.84 477.5)" />
<path class="tw" d="M204.69 446.25 L209.06 446.25 L209.06 462.34 L204.69 462.34 Z" />
<ellipse class="tw" cx="206.88" cy="446.25" rx="2.19" ry="0.94" />
<ellipse class="" cx="213.75" cy="486.88" rx="4.53" ry="5.94" transform="rotate(-15 213.75 486.88)" fill="none" stroke="#000" stroke-width="1.5"/>
<ellipse class="tw" cx="191.88" cy="500.31" rx="8.12" ry="10.16" transform="rotate(-15 191.88 500.31)" />
<ellipse class="t" cx="191.72" cy="500.31" rx="3.25" ry="4.06" transform="rotate(-15 191.72 500.31)" />
<path class="axk" transform="translate(150 410) scale(0.15625)" d="M35 470 L180 392 M300 325 L540 195 M610 135 L640 118 M660 105 L775 42" />
<path class="ax" transform="translate(150 410) scale(0.15625)" d="M110 665 L800 275" />
<line class="l" x1="189.06" y1="410" x2="183.59" y2="445.16" />
<line class="l" x1="212.5" y1="410" x2="207.03" y2="445.16" />
<line class="l" x1="178.75" y1="518.75" x2="167.5" y2="486.25" />
<line class="l" x1="227.5" y1="528.75" x2="216.25" y2="492.5" />
<line class="l" x1="206.25" y1="540" x2="195" y2="508.75" />
<line class="l" x1="271.25" y1="540" x2="262.5" y2="511.25" />
<line class="l" x1="47.03" y1="475.13" x2="41.08" y2="506.08" />
<line class="l" x1="95.85" y1="519.78" x2="102.7" y2="539.72" />
<line class="l" x1="211.94" y1="592.41" x2="175.63" y2="588.24" />
<line class="l" x1="212" y1="412.5" x2="207.5" y2="443.75" />
<ellipse class="" cx="107.78" cy="544.98" rx="5.57" ry="7.74" transform="rotate(-28 107.78 544.98)" fill="#fff" stroke="#000" stroke-width="1.9"/>
<ellipse class="" cx="104.02" cy="546.98" rx="5.57" ry="7.74" transform="rotate(-28 104.02 546.98)" fill="#fff" stroke="#000" stroke-width="1.9"/>
<ellipse class="t" cx="103.68" cy="547.16" rx="3.25" ry="4.8" transform="rotate(-28 103.68 547.16)" />
<path class="t" d="M101.5 543.06 L105.86 551.26" />
<path class="t" d="M100.94 548.61 L106.41 545.71" />
<ellipse class="t" cx="114.83" cy="541.25" rx="2.08" ry="2.68" />
<ellipse class="" cx="910.74" cy="92.86" rx="5.43" ry="7.55" transform="rotate(-28 910.74 92.86)" fill="#fff" stroke="#000" stroke-width="1.9"/>
<ellipse class="" cx="907.08" cy="94.81" rx="5.43" ry="7.55" transform="rotate(-28 907.08 94.81)" fill="#fff" stroke="#000" stroke-width="1.9"/>
<ellipse class="t" cx="906.74" cy="94.98" rx="3.17" ry="4.68" transform="rotate(-28 906.74 94.98)" />
<path class="t" d="M904.62 90.98 L908.87 98.98" />
<path class="t" d="M904.08 96.4 L909.41 93.57" />
<path class="t" d="M900.48 98.23 L888.87 104.03" />
<line class="l" x1="930.5" y1="170" x2="923" y2="150" />
<line class="l" x1="965.5" y1="185" x2="954.25" y2="150" />
<line class="l" x1="905.5" y1="218.75" x2="895.5" y2="186.25" />
<line class="l" x1="923" y1="150" x2="911.75" y2="102.5" />
<line class="l" x1="954.25" y1="150" x2="954.25" y2="151.25" />
<ellipse class="" cx="512.02" cy="595.05" rx="5.57" ry="7.73" transform="rotate(-28 512.02 595.05)" fill="#fff" stroke="#000" stroke-width="1.9"/>
<ellipse class="" cx="508.27" cy="597.05" rx="5.57" ry="7.73" transform="rotate(-28 508.27 597.05)" fill="#fff" stroke="#000" stroke-width="1.9"/>
<ellipse class="t" cx="507.93" cy="597.23" rx="3.25" ry="4.8" transform="rotate(-28 507.93 597.23)" />
<path class="t" d="M505.75 593.13 L510.1 601.33" />
<path class="t" d="M505.19 598.68 L510.66 595.78" />
<path class="t" d="M516.1 592.82 L551.88 573.09" />
<line class="l" x1="498.75" y1="556.25" x2="507.5" y2="587.5" />
<line class="l" x1="536.25" y1="482" x2="545" y2="513.75" />
<line class="l" x1="593.75" y1="497.5" x2="605" y2="531.25" />
<path class="b" d="M339.05 473.81 C338.76 472.19 339.48 472.33 341.43 474.76 C343.38 477.19 356.14 496.12 358.57 498.1 C361 500.07 364.64 494.76 365.71 494.52 C366.79 494.29 368.81 494.64 369.29 495.71 C369.76 496.79 369.52 504.17 370.48 505.24 C371.43 506.31 377.5 505.83 378.81 506.43 C380.12 507.02 382.5 511.07 383.57 511.19 C384.64 511.31 388.45 507.62 389.52 507.62 C390.6 507.62 393.1 510.6 394.29 511.19 C395.48 511.79 400 513.81 401.43 513.57 C402.86 513.33 406.55 509.76 408.57 508.81 C410.6 507.86 420.24 506.31 421.67 504.05 C423.1 501.79 422.07 488.81 422.86 486.19 C423.64 483.57 428.1 478.21 429.52 477.86 C430.95 477.5 434.95 482.31 437.14 482.62 C439.33 482.93 449.52 480.6 451.43 480.95 C453.33 481.31 455.36 484.48 456.19 486.19 C457.02 487.9 459.83 495.24 459.76 498.1 C459.69 500.95 456.02 511.67 455.48 514.76 C454.93 517.86 453.86 527.02 454.29 529.05 C454.71 531.07 458.26 533.69 459.76 535 C461.26 536.31 467.79 540.36 469.29 542.14 C470.79 543.93 474.12 550.6 474.76 552.86 C475.4 555.12 475.9 562.38 475.71 564.76 C475.52 567.14 473.98 574.4 472.86 576.67 C471.74 578.93 466.9 585.48 464.52 587.38 C462.14 589.29 452.5 594.52 449.05 595.71 C445.6 596.9 434.05 599.05 430 599.29 C425.95 599.52 411.9 598.69 408.57 598.1 C405.24 597.5 398.69 594.52 396.67 593.33 C394.64 592.14 389.88 588.21 388.33 586.19 C386.79 584.17 382.62 575.95 381.19 573.1 C379.76 570.24 375.6 561.31 374.05 557.62 C372.5 553.93 367.62 540.71 365.71 536.19 C363.81 531.67 357.14 516.9 355 512.38 C352.86 507.86 345.88 494.81 344.29 490.95 C342.69 487.1 339.33 475.43 339.05 473.81 Z" />
<path class="" d="M340 474.76 C343.02 478.97 353.81 492.14 358.1 500 C362.38 507.86 363.06 513.89 365.71 521.9 C368.37 529.92 371.47 540.95 374.05 548.1 C376.63 555.24 378.81 560.48 381.19 564.76 C383.57 569.05 384.96 571.35 388.33 573.81 C391.71 576.27 397.46 578.17 401.43 579.52 C405.4 580.87 410.36 581.51 412.14 581.9" fill="none" stroke="#fff" stroke-width="1" stroke-linejoin="round" stroke-linecap="round"/>
<path class="" d="M342.38 476.67 C345.32 480.71 355.79 493.33 360 500.95 C364.21 508.57 364.96 514.6 367.62 522.38 C370.28 530.16 373.37 540.71 375.95 547.62 C378.53 554.52 380.75 559.72 383.1 563.81 C385.44 567.9 386.75 569.84 390 572.14 C393.25 574.44 398.93 576.35 402.62 577.62 C406.31 578.89 410.56 579.4 412.14 579.76" fill="none" stroke="#fff" stroke-width="1" stroke-linejoin="round" stroke-linecap="round"/>
<ellipse class="w" cx="431.19" cy="578.33" rx="19.52" ry="7.62" transform="rotate(-4 431.19 578.33)" />
<path class="" transform="translate(330 460) scale(0.23810)" d="M345 505 C350 530 400 540 440 532" fill="none" stroke="#000" stroke-width="2"/>
<path class="" d="M450.24 579.05 C452.42 578.06 459.56 575.28 463.33 573.1 C467.1 570.91 470.87 567.94 472.86 565.95 C474.84 563.97 474.84 561.98 475.24 561.19" fill="none" stroke="#fff" stroke-width="1" stroke-linejoin="round" stroke-linecap="round"/>
<path class="" d="M450.24 576.9 C452.22 575.99 458.61 573.53 462.14 571.43 C465.67 569.33 469.52 566.19 471.43 564.29 C473.33 562.38 473.21 560.71 473.57 560" fill="none" stroke="#fff" stroke-width="1" stroke-linejoin="round" stroke-linecap="round"/>
<path class="" d="M376.43 538.57 C376.83 540.36 377.22 546.31 378.81 549.29 C380.4 552.26 384.76 555.24 385.95 556.43" fill="none" stroke="#fff" stroke-width="1" stroke-dasharray="5 3"/>
<path class="" d="M383.57 552.86 C386.55 551.35 394.48 545.99 401.43 543.81 C408.37 541.63 419.09 540.16 425.24 539.76 C431.39 539.37 436.15 541.15 438.33 541.43" fill="none" stroke="#fff" stroke-width="1" stroke-dasharray="5 3"/>
<path class="" d="M427.62 520.71 C429.4 522.5 435.16 526.87 438.33 531.43 C441.51 535.99 442.5 543.33 446.67 548.1 C450.83 552.86 459.68 556.75 463.33 560 C466.98 563.25 467.7 566.35 468.57 567.62" fill="none" stroke="#fff" stroke-width="1" stroke-dasharray="5 3"/>
<path class="w" d="M358.1 499.29 L365.71 495.71 L368.57 498.1 L363.33 501.9 Z" />
<path class="w" d="M365.24 496.19 L369.52 495.71 L373.81 538.57 L370.48 540 Z" />
<path class="" d="M367.62 498.1 L371.9 539.05" stroke="#000" stroke-width="0.8" fill="none"/>
<path class="w" d="M375.24 510.48 L380 506.67 L387.14 523.81 L388.57 531.43 L381.43 531.43 L378.81 521.9 Z" />
<path class="" d="M377.62 511.19 L384.29 531.43" stroke="#000" stroke-width="0.8" fill="none"/>
<path class="w" d="M389.52 509.05 L394.29 511.43 L402.86 531.43 L405.24 535.24 L399.05 533.81 L392.38 528.1 Z" />
<path class="" d="M392.38 512.38 L401.43 533.33" stroke="#000" stroke-width="0.8" fill="none"/>
<path class="" d="M372.86 528.57 L387.14 531.9 L381.43 525.71" fill="none" stroke="#fff" stroke-width="1" stroke-linejoin="round" stroke-linecap="round"/>
<path class="" d="M403.81 524.76 L421.67 518.57 L427.62 520.95" fill="none" stroke="#fff" stroke-width="1" stroke-linejoin="round" stroke-linecap="round"/>
<path class="" d="M405.71 527.38 L422.38 521.43" fill="none" stroke="#fff" stroke-width="1" stroke-linejoin="round" stroke-linecap="round"/>
<path class="" d="M401.43 514.29 L421.67 506.67" fill="none" stroke="#fff" stroke-width="1" stroke-linejoin="round" stroke-linecap="round"/>
<path class="w" d="M424.05 485.24 L429.52 478.57 L434.76 485.24 L436.19 517.14 L429.05 520.95 L421.9 517.14 Z" />
<path class="" d="M429.52 479.05 L430.95 519.52" stroke="#000" stroke-width="0.8" fill="none"/>
<path class="" d="M426.43 486.19 L427.62 518.33" stroke="#000" stroke-width="0.8" fill="none"/>
<path class="" d="M451.43 481.9 L437.62 507.62 L436.67 517.14" fill="none" stroke="#fff" stroke-width="1" stroke-linejoin="round" stroke-linecap="round"/>
<path class="" d="M455.71 486.67 L458.57 498.1 L454.76 514.29" fill="none" stroke="#fff" stroke-width="1" stroke-linejoin="round" stroke-linecap="round"/>
<path class="w" transform="translate(330 460) scale(0.23810)" d="M238 512 L250 508 L252 522 L242 526 Z" />
<line class="" x1="391.43" y1="474.29" x2="391.43" y2="599.29" stroke="#ccc" stroke-width="0.9"/>
<path class="tw" transform="translate(330 460) scale(0.23810)" d="M160 30 L210 0 L215 90 L245 95 L268 88 L272 100 L248 122 L200 132 L165 118 Z" />
<path class="t" transform="translate(330 460) scale(0.23810)" d="M160 30 L165 118 M215 90 L165 118" />
<path class="tw" d="M388.33 600.48 L394.29 600.48 L394.29 609.52 L388.33 609.52 Z" />
<line class="m" x1="388.33" y1="602.38" x2="394.29" y2="601.67" />
<line class="m" x1="388.33" y1="604.05" x2="394.29" y2="603.33" />
<line class="m" x1="388.33" y1="605.71" x2="394.29" y2="605" />
<line class="m" x1="388.33" y1="607.38" x2="394.29" y2="606.67" />
<line class="m" x1="388.33" y1="609.05" x2="394.29" y2="608.33" />
<path class="tw" transform="translate(330 460) scale(0.23810)" d="M231 650 L231 662 C240 676 275 676 285 662 L285 650 Z" />
<ellipse class="tw" cx="391.43" cy="614.76" rx="6.43" ry="2.38" />
<line class="l" x1="341.1" y1="570.21" x2="382.19" y2="574.66" />
<line class="l" x1="344.52" y1="612.33" x2="383.9" y2="616.44" />
</svg></body></html>
